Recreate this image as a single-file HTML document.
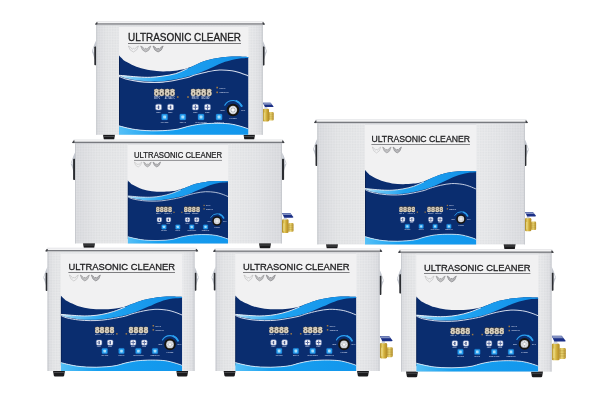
<!DOCTYPE html>
<html><head><meta charset="utf-8"><title>Ultrasonic Cleaner</title>
<style>html,body{margin:0;padding:0;background:#fff;}body{width:600px;height:400px;overflow:hidden;}svg{display:block;will-change:transform;opacity:0.999;}.t{font-family:"Liberation Sans",sans-serif;fill:#202022;stroke:#202022;}.led{font-family:"Liberation Mono",monospace;font-weight:bold;fill:#ddd4c2;stroke:#ddd4c2;}.s{font-family:"Liberation Sans",sans-serif;font-weight:bold;}</style></head><body>
<svg width="600" height="400" viewBox="0 0 600 400">
<defs>
<linearGradient id="brass" x1="0" x2="1" y1="0" y2="0"><stop offset="0" stop-color="#a98422"/><stop offset="0.35" stop-color="#e6cd62"/><stop offset="0.7" stop-color="#c9a433"/><stop offset="1" stop-color="#b08a27"/></linearGradient>
<linearGradient id="brass2" x1="0" x2="1" y1="0" y2="0"><stop offset="0" stop-color="#b89330"/><stop offset="0.4" stop-color="#ecd876"/><stop offset="1" stop-color="#b48e2a"/></linearGradient>
<pattern id="tex" width="1.6" height="1.6" patternUnits="userSpaceOnUse"><rect width="1.6" height="1.6" fill="none"/><rect x="0" y="0" width="0.8" height="0.8" fill="#8e9299" opacity="0.08"/><rect x="0.8" y="0.8" width="0.8" height="0.8" fill="#ffffff" opacity="0.14"/></pattern>
<radialGradient id="knob"><stop offset="0" stop-color="#ffffff"/><stop offset="0.7" stop-color="#e4e6ea"/><stop offset="1" stop-color="#b9bcc3"/></radialGradient>
<linearGradient id="steel1" x1="0" x2="1" y1="0" y2="0"><stop offset="0" stop-color="#d9dade"/><stop offset="0.06" stop-color="#e3e4e6"/><stop offset="0.14" stop-color="#e6e7e9"/><stop offset="0.91" stop-color="#e8e9eb"/><stop offset="0.96" stop-color="#e2e3e6"/><stop offset="1" stop-color="#d9dade"/></linearGradient>
<linearGradient id="sw1" x1="0" x2="1" y1="0" y2="0"><stop offset="0" stop-color="#c9ecfc"/><stop offset="0.12" stop-color="#6cc6f6"/><stop offset="0.35" stop-color="#1fa3f1"/><stop offset="1" stop-color="#1290e8"/></linearGradient>
<linearGradient id="bb1" x1="0" x2="1" y1="0" y2="0"><stop offset="0" stop-color="#55c0f7"/><stop offset="0.3" stop-color="#17a0f0"/><stop offset="1" stop-color="#1296ec"/></linearGradient>
<linearGradient id="steel2" x1="0" x2="1" y1="0" y2="0"><stop offset="0" stop-color="#d9dade"/><stop offset="0.11" stop-color="#e3e4e6"/><stop offset="0.25" stop-color="#e6e7e9"/><stop offset="0.74" stop-color="#e8e9eb"/><stop offset="0.88" stop-color="#e2e3e6"/><stop offset="1" stop-color="#d9dade"/></linearGradient>
<linearGradient id="sw2" x1="0" x2="1" y1="0" y2="0"><stop offset="0" stop-color="#c9ecfc"/><stop offset="0.12" stop-color="#6cc6f6"/><stop offset="0.35" stop-color="#1fa3f1"/><stop offset="1" stop-color="#1290e8"/></linearGradient>
<linearGradient id="bb2" x1="0" x2="1" y1="0" y2="0"><stop offset="0" stop-color="#55c0f7"/><stop offset="0.3" stop-color="#17a0f0"/><stop offset="1" stop-color="#1296ec"/></linearGradient>
<linearGradient id="steel3" x1="0" x2="1" y1="0" y2="0"><stop offset="0" stop-color="#d9dade"/><stop offset="0.1" stop-color="#e3e4e6"/><stop offset="0.23" stop-color="#e6e7e9"/><stop offset="0.77" stop-color="#e8e9eb"/><stop offset="0.89" stop-color="#e2e3e6"/><stop offset="1" stop-color="#d9dade"/></linearGradient>
<linearGradient id="sw3" x1="0" x2="1" y1="0" y2="0"><stop offset="0" stop-color="#c9ecfc"/><stop offset="0.12" stop-color="#6cc6f6"/><stop offset="0.35" stop-color="#1fa3f1"/><stop offset="1" stop-color="#1290e8"/></linearGradient>
<linearGradient id="bb3" x1="0" x2="1" y1="0" y2="0"><stop offset="0" stop-color="#55c0f7"/><stop offset="0.3" stop-color="#17a0f0"/><stop offset="1" stop-color="#1296ec"/></linearGradient>
<linearGradient id="steel4" x1="0" x2="1" y1="0" y2="0"><stop offset="0" stop-color="#d9dade"/><stop offset="0.04" stop-color="#e3e4e6"/><stop offset="0.09" stop-color="#e6e7e9"/><stop offset="0.92" stop-color="#e8e9eb"/><stop offset="0.96" stop-color="#e2e3e6"/><stop offset="1" stop-color="#d9dade"/></linearGradient>
<linearGradient id="sw4" x1="0" x2="1" y1="0" y2="0"><stop offset="0" stop-color="#c9ecfc"/><stop offset="0.12" stop-color="#6cc6f6"/><stop offset="0.35" stop-color="#1fa3f1"/><stop offset="1" stop-color="#1290e8"/></linearGradient>
<linearGradient id="bb4" x1="0" x2="1" y1="0" y2="0"><stop offset="0" stop-color="#55c0f7"/><stop offset="0.3" stop-color="#17a0f0"/><stop offset="1" stop-color="#1296ec"/></linearGradient>
<linearGradient id="steel5" x1="0" x2="1" y1="0" y2="0"><stop offset="0" stop-color="#d9dade"/><stop offset="0.05" stop-color="#e3e4e6"/><stop offset="0.12" stop-color="#e6e7e9"/><stop offset="0.86" stop-color="#e8e9eb"/><stop offset="0.94" stop-color="#e2e3e6"/><stop offset="1" stop-color="#d9dade"/></linearGradient>
<linearGradient id="sw5" x1="0" x2="1" y1="0" y2="0"><stop offset="0" stop-color="#c9ecfc"/><stop offset="0.12" stop-color="#6cc6f6"/><stop offset="0.35" stop-color="#1fa3f1"/><stop offset="1" stop-color="#1290e8"/></linearGradient>
<linearGradient id="bb5" x1="0" x2="1" y1="0" y2="0"><stop offset="0" stop-color="#55c0f7"/><stop offset="0.3" stop-color="#17a0f0"/><stop offset="1" stop-color="#1296ec"/></linearGradient>
<linearGradient id="steel6" x1="0" x2="1" y1="0" y2="0"><stop offset="0" stop-color="#d9dade"/><stop offset="0.05" stop-color="#e3e4e6"/><stop offset="0.1" stop-color="#e6e7e9"/><stop offset="0.91" stop-color="#e8e9eb"/><stop offset="0.96" stop-color="#e2e3e6"/><stop offset="1" stop-color="#d9dade"/></linearGradient>
<linearGradient id="sw6" x1="0" x2="1" y1="0" y2="0"><stop offset="0" stop-color="#c9ecfc"/><stop offset="0.12" stop-color="#6cc6f6"/><stop offset="0.35" stop-color="#1fa3f1"/><stop offset="1" stop-color="#1290e8"/></linearGradient>
<linearGradient id="bb6" x1="0" x2="1" y1="0" y2="0"><stop offset="0" stop-color="#55c0f7"/><stop offset="0.3" stop-color="#17a0f0"/><stop offset="1" stop-color="#1296ec"/></linearGradient>
</defs>
<rect width="600" height="400" fill="#ffffff"/>
<g id="c1">
<path d="M103 134.3H115L114.2 139.4Q114 140.4 113 140.4H105Q104 140.4 103.8 139.4Z" fill="#1b1b1d"/>
<rect x="103.6" y="136" width="10.8" height="0.8" fill="#55575a"/>
<path d="M243.5 134.3H255L254.2 139.4Q254 140.4 253 140.4H245.5Q244.5 140.4 244.3 139.4Z" fill="#1b1b1d"/>
<rect x="244.1" y="136" width="10.3" height="0.8" fill="#55575a"/>
<path d="M96.2 40.2L94.6 43.7L92 50.7Q91.8 52.2 92.8 53.7L94.6 59.2H96.2Z" fill="#c3c7cf"/>
<path d="M94.3 46.2L92.6 51L93.6 52.7Z" fill="#f3f4f7"/>
<rect x="94.3" y="46.5" width="2.2" height="18.7" rx="0.8" fill="#2b2d31"/>
<path d="M262.6 40.2L264.2 43.7L266.8 50.7Q267 52.2 266 53.7L264.2 59.2H262.6Z" fill="#c3c7cf"/>
<path d="M264.5 46.2L266.2 51L265.2 52.7Z" fill="#f3f4f7"/>
<rect x="262.3" y="46.5" width="2.2" height="19.1" rx="0.8" fill="#2b2d31"/>
<rect x="262.8" y="108.71" width="6.2" height="12.88" rx="1.22" fill="url(#brass)"/>
<rect x="268.67" y="112.08" width="5.06" height="8.4" rx="1.06" fill="url(#brass2)"/>
<rect x="264.43" y="106.78" width="2.85" height="2.12" fill="#cfd3dc"/>
<path d="M262.8 102.7H270.55L273.56 106.45Q273.56 107.1 272.58 107.1H264.92Z" fill="#1b2f86"/>
<path d="M263.04 102.86H270.46L271.93 104.66H264.1Z" fill="#8d9bc8" opacity="0.9"/>
<rect x="263.78" y="112.48" width="1.3" height="7.34" fill="#f1e39a" opacity="0.55"/>
<path d="M268.83 114.28H273.56M268.83 116.24H273.56M268.83 118.19H273.56" stroke="#9a7a1e" stroke-width="0.41" opacity="0.6"/>
<rect x="96.2" y="24.7" width="166.6" height="110.1" fill="url(#steel1)"/>
<rect x="96.2" y="25.2" width="166.6" height="109.6" fill="url(#tex)"/>
<rect x="96.2" y="25.2" width="1" height="109.6" fill="#c3c6cb" opacity="0.8"/>
<rect x="261.8" y="25.2" width="1" height="109.6" fill="#c3c6cb" opacity="0.8"/>
<path d="M95 24.6L96.8 21H263.2L265 24.6V24.9H95Z" fill="#f3f3f4"/>
<rect x="96.6" y="21" width="166.8" height="0.8" fill="#e6e7e9"/>
<rect x="95.6" y="23.3" width="168.8" height="1.4" fill="#787a7f"/>
<path d="M95 24.5L96.5 22.2L97.6 22.2L97.2 24.7Z" fill="#3f4145"/>
<path d="M265 24.5L263.5 22.2L262.4 22.2L262.8 24.7Z" fill="#3f4145"/>
<rect x="96.2" y="24.7" width="166.6" height="0.8" fill="#c4c6ca" opacity="0.7"/>
<rect x="119" y="26" width="129.5" height="108.8" fill="#f1f1f2"/>
<rect x="119" y="26" width="129.5" height="1" fill="#e2e3e6"/>
<text x="128" y="41.25" font-size="10.7" textLength="113" lengthAdjust="spacingAndGlyphs" class="t" stroke-width="0.3">ULTRASONIC CLEANER</text>
<rect x="128" y="43.15" width="113" height="0.74" fill="#4e4e52"/>
<path d="M128.37 46Q130.9 46.9 132.21 49.3L133.43 48.1L134.64 49.3Q135.95 46.9 138.48 46Q137.47 50.8 133.43 52Q129.38 50.8 128.37 46Z" fill="none" fill-opacity="0.45" stroke="#a9a9ab" stroke-width="0.48"/>
<path d="M140.7 46Q143.23 46.9 144.55 49.3L145.76 48.1L146.97 49.3Q148.29 46.9 150.82 46Q149.81 50.8 145.76 52Q141.71 50.8 140.7 46Z" fill="#8b8b8e" fill-opacity="0.45" stroke="#8b8b8e" stroke-width="0.59"/>
<path d="M153.04 46Q155.56 46.9 156.88 49.3L158.09 48.1L159.31 49.3Q160.62 46.9 163.15 46Q162.14 50.8 158.09 52Q154.05 50.8 153.04 46Z" fill="#7a7a7e" fill-opacity="0.45" stroke="#7a7a7e" stroke-width="0.64"/>
<clipPath id="cp1"><rect x="119" y="26" width="129.5" height="108.8"/></clipPath>
<g clip-path="url(#cp1)">
<path d="M119 55.58C119.54 56.12 121.13 57.81 122.24 58.79C123.35 59.77 123.04 60.04 125.67 61.46C128.3 62.87 133.9 65.8 138.04 67.28C142.17 68.75 146.32 69.61 150.47 70.3C154.61 70.98 158.76 71.32 162.9 71.39C167.04 71.45 172.09 71.01 175.33 70.71C178.57 70.41 180.28 70.04 182.33 69.59C184.38 69.14 185.56 68.74 187.63 67.99C189.71 67.25 191.52 66.4 194.76 65.13C198 63.85 202.94 61.57 207.06 60.35C211.18 59.12 215.35 58.42 219.49 57.78C223.64 57.15 227.09 56.68 231.92 56.54C236.76 56.4 245.74 56.86 248.5 56.93L248.5 129.01C247.96 128.8 246.86 128.27 245.26 127.74C243.67 127.21 241.03 126.41 238.92 125.84C236.8 125.27 234.86 124.72 232.57 124.33C230.28 123.95 228.21 123.71 225.19 123.54C222.17 123.37 218 123.26 214.44 123.3C210.88 123.34 206.78 123.55 203.82 123.78C200.87 124 199.4 124.2 196.7 124.65C194 125.1 190.72 125.73 187.63 126.47C184.55 127.21 181.53 128.44 178.18 129.09C174.84 129.74 171.1 130.07 167.56 130.36C164.02 130.65 160.5 130.8 156.94 130.84C153.38 130.87 149.76 130.81 146.19 130.6C142.63 130.39 139.12 130.09 135.58 129.57C132.04 129.04 127.72 128.05 124.96 127.43C122.19 126.8 119.99 126.1 119 125.84Z" fill="#0a2d6f"/>
<rect x="119" y="57.5" width="0.9" height="71.37" fill="#061d4c" opacity="0.85"/>
<path d="M119 125.84C119.99 126.1 122.19 126.8 124.96 127.43C127.72 128.05 132.04 129.04 135.58 129.57C139.12 130.09 142.63 130.39 146.19 130.6C149.76 130.81 153.38 130.87 156.94 130.84C160.5 130.8 164.02 130.65 167.56 130.36C171.1 130.07 174.84 129.74 178.18 129.09C181.53 128.44 184.55 127.21 187.63 126.47C190.72 125.73 194 125.1 196.7 124.65C199.4 124.2 200.87 124 203.82 123.78C206.78 123.55 210.88 123.34 214.44 123.3C218 123.26 222.17 123.37 225.19 123.54C228.21 123.71 230.28 123.95 232.57 124.33C234.86 124.72 236.8 125.27 238.92 125.84C241.03 126.41 243.67 127.21 245.26 127.74C246.86 128.27 247.96 128.8 248.5 129.01L248.5 137.18L119 137.18Z" fill="url(#bb1)"/>
<path d="M119 125.84C119.99 126.1 122.19 126.8 124.96 127.43C127.72 128.05 132.04 129.04 135.58 129.57C139.12 130.09 142.63 130.39 146.19 130.6C149.76 130.81 153.38 130.87 156.94 130.84C160.5 130.8 164.02 130.65 167.56 130.36C171.1 130.07 174.84 129.74 178.18 129.09C181.53 128.44 184.55 127.21 187.63 126.47C190.72 125.73 194 125.1 196.7 124.65C199.4 124.2 200.87 124 203.82 123.78C206.78 123.55 210.88 123.34 214.44 123.3C218 123.26 222.17 123.37 225.19 123.54C228.21 123.71 230.28 123.95 232.57 124.33C234.86 124.72 236.8 125.27 238.92 125.84C241.03 126.41 243.67 127.21 245.26 127.74C246.86 128.27 247.96 128.8 248.5 129.01" fill="none" stroke="#e8f2fb" stroke-width="0.85"/>
<path d="M119 75.29C122.17 75.56 132.79 76.6 138.04 76.93C143.28 77.27 146.32 77.43 150.47 77.29C154.61 77.15 158.76 76.69 162.9 76.09C167.04 75.5 171.21 74.98 175.33 73.72C179.45 72.47 184.4 69.98 187.63 68.55C190.87 67.12 191.52 66.49 194.76 65.13C198 63.76 202.94 61.57 207.06 60.35C211.18 59.12 215.35 58.42 219.49 57.78C223.64 57.15 227.09 56.68 231.92 56.54C236.76 56.4 245.74 56.86 248.5 56.93L248.5 57.96C246.77 58.08 242.05 58.02 238.14 58.68C234.23 59.33 229.31 60.46 225.06 61.87C220.81 63.28 216.77 65.35 212.63 67.14C208.48 68.93 204.36 71.04 200.2 72.6C196.03 74.17 191.78 75.42 187.63 76.54C183.49 77.66 179.45 78.55 175.33 79.32C171.21 80.09 167.04 80.8 162.9 81.17C158.76 81.53 154.61 81.59 150.47 81.49C146.32 81.4 142.17 81.1 138.04 80.58C133.9 80.05 128.84 79.13 125.67 78.34C122.5 77.55 120.11 76.26 119 75.84Z" fill="url(#sw1)"/>
<path d="M119 75.29C122.17 75.56 132.79 76.6 138.04 76.93C143.28 77.27 146.32 77.43 150.47 77.29C154.61 77.15 158.76 76.69 162.9 76.09C167.04 75.5 171.21 74.98 175.33 73.72C179.45 72.47 185.58 69.41 187.63 68.55" fill="none" stroke="#f2f4f8" stroke-width="0.96"/>
<path d="M119 76.32C120.11 76.77 122.5 78.22 125.67 79.06C128.84 79.9 133.9 80.82 138.04 81.37C142.17 81.92 146.32 82.24 150.47 82.37C154.61 82.49 158.76 82.47 162.9 82.12C167.04 81.77 171.19 81.03 175.33 80.27C179.48 79.51 184.53 78.43 187.76 77.56C191 76.7 191.54 76.04 194.76 75.1C197.97 74.16 202.94 72.78 207.06 71.92C211.18 71.07 215.35 70.19 219.49 69.99C223.64 69.8 228.38 70.24 231.92 70.74C235.46 71.23 237.97 72.08 240.73 72.95C243.49 73.82 247.2 75.46 248.5 75.96" fill="none" stroke="#d3dbec" stroke-width="1.06"/>
</g>
<rect x="154.04" y="88.87" width="20.74" height="6.7" fill="#3a3a3e"/>
<text x="153.72" y="96.27" font-size="10.15" textLength="21.38" lengthAdjust="spacingAndGlyphs" class="led" stroke-width="0.49">8888</text>
<rect x="190.76" y="88.87" width="20.74" height="6.7" fill="#3a3a3e"/>
<text x="190.44" y="96.27" font-size="10.15" textLength="21.38" lengthAdjust="spacingAndGlyphs" class="led" stroke-width="0.49">8888</text>
<text x="154.04" y="99.01" font-size="2.7" textLength="6.26" lengthAdjust="spacingAndGlyphs" fill="#c0cae4" text-anchor="start" class="s">SET°C</text>
<text x="164.74" y="99.01" font-size="2.7" textLength="10.04" lengthAdjust="spacingAndGlyphs" fill="#c0cae4" text-anchor="start" class="s">ACTUAL°C</text>
<text x="191.84" y="99.01" font-size="2.7" textLength="6.91" lengthAdjust="spacingAndGlyphs" fill="#c0cae4" text-anchor="start" class="s">MINUTE</text>
<text x="201.24" y="99.01" font-size="2.7" textLength="8.21" lengthAdjust="spacingAndGlyphs" fill="#c0cae4" text-anchor="start" class="s">SECOND</text>
<rect x="176.94" y="96.21" width="1.62" height="1.62" fill="#a07a44"/>
<rect x="187.2" y="96.21" width="1.62" height="1.62" fill="#a07a44"/>
<rect x="216.36" y="86.77" width="1.62" height="1.62" fill="#a07a44"/>
<rect x="216.36" y="91.55" width="1.62" height="1.62" fill="#a07a44"/>
<text x="219.49" y="88.63" font-size="2.48" textLength="5.94" lengthAdjust="spacingAndGlyphs" fill="#c0cae4" text-anchor="start" class="s">DEGAS</text>
<text x="219.49" y="93.42" font-size="2.48" textLength="9.18" lengthAdjust="spacingAndGlyphs" fill="#c0cae4" text-anchor="start" class="s">SEMIWAVE</text>
<rect x="155.56" y="104.15" width="6.05" height="5.94" rx="1.51" fill="#f6f7fb" stroke="#5f75ae" stroke-width="0.54"/>
<rect x="157.82" y="105.55" width="1.51" height="3.35" rx="0.54" fill="#4a5d92"/>
<rect x="156.64" y="106.71" width="0.86" height="1.3" fill="#7e8db8"/>
<text x="156.1" y="112.89" font-size="2.38" textLength="4.97" lengthAdjust="spacingAndGlyphs" fill="#c0cae4" text-anchor="start" class="s">TEMP+</text>
<rect x="167.54" y="104.15" width="6.05" height="5.94" rx="1.51" fill="#f6f7fb" stroke="#5f75ae" stroke-width="0.54"/>
<rect x="169.81" y="105.55" width="1.51" height="3.35" rx="0.54" fill="#4a5d92"/>
<rect x="168.62" y="106.71" width="0.86" height="1.3" fill="#7e8db8"/>
<text x="168.08" y="112.89" font-size="2.38" textLength="4.97" lengthAdjust="spacingAndGlyphs" fill="#c0cae4" text-anchor="start" class="s">TEMP-</text>
<rect x="192.38" y="104.15" width="6.05" height="5.94" rx="1.51" fill="#f6f7fb" stroke="#5f75ae" stroke-width="0.54"/>
<path d="M193.36 107.3H197.46M195.41 104.96V109.75" stroke="#5c6ea3" stroke-width="1.08"/>
<text x="192.92" y="112.89" font-size="2.38" textLength="4.97" lengthAdjust="spacingAndGlyphs" fill="#c0cae4" text-anchor="start" class="s">TIME+</text>
<rect x="204.48" y="104.15" width="6.05" height="5.94" rx="1.51" fill="#f6f7fb" stroke="#5f75ae" stroke-width="0.54"/>
<path d="M205.45 107.3H209.56M207.5 104.96V109.75" stroke="#5c6ea3" stroke-width="1.08"/>
<text x="205.02" y="112.89" font-size="2.38" textLength="4.97" lengthAdjust="spacingAndGlyphs" fill="#c0cae4" text-anchor="start" class="s">TIME-</text>
<rect x="161.6" y="114.06" width="6.05" height="5.83" rx="0.97" fill="#249ff0" stroke="#1a6cc2" stroke-width="0.43"/>
<rect x="163.22" y="115.58" width="2.81" height="3.02" rx="0.65" fill="#a9dcfa"/>
<text x="160.85" y="122.69" font-size="2.48" textLength="7.56" lengthAdjust="spacingAndGlyphs" fill="#c0cae4" text-anchor="start" class="s">HEATER</text>
<rect x="179.75" y="114.06" width="6.05" height="5.83" rx="0.97" fill="#249ff0" stroke="#1a6cc2" stroke-width="0.43"/>
<rect x="181.37" y="115.58" width="2.81" height="3.02" rx="0.65" fill="#a9dcfa"/>
<text x="179.64" y="122.69" font-size="2.48" textLength="6.26" lengthAdjust="spacingAndGlyphs" fill="#c0cae4" text-anchor="start" class="s">DEGAS</text>
<rect x="198" y="114.06" width="6.05" height="5.83" rx="0.97" fill="#249ff0" stroke="#1a6cc2" stroke-width="0.43"/>
<rect x="199.62" y="115.58" width="2.81" height="3.02" rx="0.65" fill="#a9dcfa"/>
<text x="195.35" y="122.69" font-size="2.48" textLength="11.34" lengthAdjust="spacingAndGlyphs" fill="#c0cae4" text-anchor="start" class="s">ULTRASONIC</text>
<rect x="216.04" y="114.06" width="6.05" height="5.83" rx="0.97" fill="#249ff0" stroke="#1a6cc2" stroke-width="0.43"/>
<rect x="217.66" y="115.58" width="2.81" height="3.02" rx="0.65" fill="#a9dcfa"/>
<text x="214.2" y="122.69" font-size="2.48" textLength="9.72" lengthAdjust="spacingAndGlyphs" fill="#c0cae4" text-anchor="start" class="s">SEMIWAVE</text>
<path d="M224.79 105.25A9.5 9.5 0 0 1 241.64 106" fill="none" stroke="#2a9ff0" stroke-width="1.19" stroke-linecap="round"/>
<path d="M236.56 101.14A9.5 9.5 0 0 1 241.64 106" fill="none" stroke="#2a9ff0" stroke-width="2.05" stroke-linecap="round"/>
<circle cx="233" cy="110" r="6.26" fill="#17140f"/>
<circle cx="233" cy="110" r="4.21" fill="url(#knob)"/>
<path d="M230.19 110H235.81M233 107.19V112.81M230.95 107.95L235.05 112.05M230.95 112.05L235.05 107.95" stroke="#6d7076" stroke-width="0.59" opacity="0.8"/>
<circle cx="233" cy="110" r="1.3" fill="#fafafa"/>
<text x="220.58" y="110.86" font-size="2.48" textLength="4.1" lengthAdjust="spacingAndGlyphs" fill="#c0cae4" text-anchor="start" class="s">MIN</text>
<text x="241.21" y="110.86" font-size="2.48" textLength="4.1" lengthAdjust="spacingAndGlyphs" fill="#c0cae4" text-anchor="start" class="s">MAX</text>
<text x="229.33" y="119.29" font-size="2.48" textLength="7.34" lengthAdjust="spacingAndGlyphs" fill="#c0cae4" text-anchor="start" class="s">POWER</text>
</g>
<g id="c2">
<path d="M83 242.9H95L94.2 248Q94 249 93 249H85Q84 249 83.8 248Z" fill="#1b1b1d"/>
<rect x="83.6" y="244.6" width="10.8" height="0.8" fill="#55575a"/>
<path d="M259 242.9H271L270.2 248Q270 249 269 249H261Q260 249 259.8 248Z" fill="#1b1b1d"/>
<rect x="259.6" y="244.6" width="10.8" height="0.8" fill="#55575a"/>
<path d="M75 152.5L73.4 156L70.8 163Q70.6 164.5 71.6 166L73.4 171.5H75Z" fill="#c3c7cf"/>
<path d="M73.1 158.5L71.4 163.3L72.4 165Z" fill="#f3f4f7"/>
<rect x="73.1" y="158.8" width="2.2" height="21.2" rx="0.8" fill="#2b2d31"/>
<path d="M282.2 152.5L283.8 156L286.4 163Q286.6 164.5 285.6 166L283.8 171.5H282.2Z" fill="#c3c7cf"/>
<path d="M284.1 158.5L285.8 163.3L284.8 165Z" fill="#f3f4f7"/>
<rect x="281.9" y="158.8" width="2.2" height="21.2" rx="0.8" fill="#2b2d31"/>
<rect x="282" y="219.33" width="6.55" height="13.61" rx="1.29" fill="url(#brass)"/>
<rect x="288.2" y="222.91" width="5.34" height="8.87" rx="1.12" fill="url(#brass2)"/>
<rect x="283.72" y="217.31" width="3.02" height="2.24" fill="#cfd3dc"/>
<path d="M282 213H290.18L293.37 216.96Q293.37 217.65 292.34 217.65H284.24Z" fill="#1b2f86"/>
<path d="M282.26 213.17H290.1L291.65 215.07H283.38Z" fill="#8d9bc8" opacity="0.9"/>
<rect x="283.03" y="223.34" width="1.38" height="7.75" fill="#f1e39a" opacity="0.55"/>
<path d="M288.38 225.23H293.37M288.38 227.3H293.37M288.38 229.37H293.37" stroke="#9a7a1e" stroke-width="0.43" opacity="0.6"/>
<rect x="75" y="143.1" width="207" height="100.3" fill="url(#steel2)"/>
<rect x="75" y="143.6" width="207" height="99.8" fill="url(#tex)"/>
<rect x="75" y="143.6" width="1" height="99.8" fill="#c3c6cb" opacity="0.8"/>
<rect x="281" y="143.6" width="1" height="99.8" fill="#c3c6cb" opacity="0.8"/>
<path d="M72 143L73.8 139.5H282.8L284.6 143V143.3H72Z" fill="#f3f3f4"/>
<rect x="73.6" y="139.5" width="209.4" height="0.8" fill="#e6e7e9"/>
<rect x="72.6" y="141.7" width="211.4" height="1.4" fill="#787a7f"/>
<path d="M72 142.9L73.5 140.6L74.6 140.6L74.2 143.1Z" fill="#3f4145"/>
<path d="M284.6 142.9L283.1 140.6L282 140.6L282.4 143.1Z" fill="#3f4145"/>
<rect x="75" y="143.1" width="207" height="0.8" fill="#c4c6ca" opacity="0.7"/>
<rect x="127.6" y="144" width="100.4" height="99.4" fill="#f1f1f2"/>
<rect x="127.6" y="144" width="100.4" height="1" fill="#e2e3e6"/>
<text x="134" y="158.15" font-size="8.2" textLength="88" lengthAdjust="spacingAndGlyphs" class="t" stroke-width="0.23">ULTRASONIC CLEANER</text>
<rect x="134" y="159.95" width="88" height="0.58" fill="#4e4e52"/>
<path d="M134.28 162Q136.19 162.75 137.19 164.75L138.11 163.75L139.03 164.75Q140.02 162.75 141.93 162Q141.17 166 138.11 167Q135.05 166 134.28 162Z" fill="none" fill-opacity="0.45" stroke="#a9a9ab" stroke-width="0.37"/>
<path d="M143.61 162Q145.53 162.75 146.52 164.75L147.44 163.75L148.36 164.75Q149.35 162.75 151.27 162Q150.5 166 147.44 167Q144.38 166 143.61 162Z" fill="#8b8b8e" fill-opacity="0.45" stroke="#8b8b8e" stroke-width="0.45"/>
<path d="M152.95 162Q154.86 162.75 155.85 164.75L156.77 163.75L157.69 164.75Q158.69 162.75 160.6 162Q159.83 166 156.77 167Q153.71 166 152.95 162Z" fill="#7a7a7e" fill-opacity="0.45" stroke="#7a7a7e" stroke-width="0.49"/>
<clipPath id="cp2"><rect x="127.6" y="144" width="100.4" height="99.4"/></clipPath>
<g clip-path="url(#cp2)">
<path d="M127.6 180.2C128.02 180.62 129.25 181.96 130.11 182.73C130.97 183.5 130.73 183.74 132.77 184.81C134.81 185.89 139.15 188.12 142.36 189.17C145.56 190.23 148.78 190.72 152 191.13C155.21 191.54 158.42 191.64 161.64 191.64C164.85 191.64 168.76 191.33 171.27 191.13C173.78 190.93 175.11 190.73 176.7 190.44C178.29 190.14 179.21 189.88 180.81 189.36C182.42 188.85 183.82 188.26 186.33 187.34C188.84 186.43 192.68 184.76 195.87 183.87C199.07 182.97 202.3 182.44 205.51 181.97C208.72 181.5 211.4 181.13 215.15 181.02C218.9 180.92 225.86 181.28 228 181.34L228 239.1C227.58 238.93 226.73 238.51 225.49 238.09C224.25 237.67 222.21 237.03 220.57 236.57C218.93 236.12 217.42 235.68 215.65 235.37C213.88 235.07 212.27 234.88 209.93 234.74C207.59 234.6 204.36 234.52 201.59 234.55C198.83 234.58 195.65 234.75 193.36 234.93C191.07 235.11 189.93 235.27 187.84 235.63C185.75 235.98 183.2 236.49 180.81 237.08C178.42 237.67 176.08 238.65 173.48 239.17C170.89 239.68 167.99 239.95 165.25 240.18C162.51 240.41 159.78 240.52 157.02 240.56C154.26 240.59 151.44 240.53 148.68 240.37C145.92 240.2 143.2 239.97 140.45 239.54C137.71 239.12 134.36 238.33 132.22 237.84C130.08 237.34 128.37 236.79 127.6 236.57Z" fill="#0a2d6f"/>
<rect x="127.6" y="182.2" width="0.9" height="56.88" fill="#061d4c" opacity="0.85"/>
<path d="M127.6 236.57C128.37 236.79 130.08 237.34 132.22 237.84C134.36 238.33 137.71 239.12 140.45 239.54C143.2 239.97 145.92 240.2 148.68 240.37C151.44 240.53 154.26 240.59 157.02 240.56C159.78 240.52 162.51 240.41 165.25 240.18C167.99 239.95 170.89 239.68 173.48 239.17C176.08 238.65 178.42 237.67 180.81 237.08C183.2 236.49 185.75 235.98 187.84 235.63C189.93 235.27 191.07 235.11 193.36 234.93C195.65 234.75 198.83 234.58 201.59 234.55C204.36 234.52 207.59 234.6 209.93 234.74C212.27 234.88 213.88 235.07 215.65 235.37C217.42 235.68 218.93 236.12 220.57 236.57C222.21 237.03 224.25 237.67 225.49 238.09C226.73 238.51 227.58 238.93 228 239.1L228 245.3L127.6 245.3Z" fill="url(#bb2)"/>
<path d="M127.6 236.57C128.37 236.79 130.08 237.34 132.22 237.84C134.36 238.33 137.71 239.12 140.45 239.54C143.2 239.97 145.92 240.2 148.68 240.37C151.44 240.53 154.26 240.59 157.02 240.56C159.78 240.52 162.51 240.41 165.25 240.18C167.99 239.95 170.89 239.68 173.48 239.17C176.08 238.65 178.42 237.67 180.81 237.08C183.2 236.49 185.75 235.98 187.84 235.63C189.93 235.27 191.07 235.11 193.36 234.93C195.65 234.75 198.83 234.58 201.59 234.55C204.36 234.52 207.59 234.6 209.93 234.74C212.27 234.88 213.88 235.07 215.65 235.37C217.42 235.68 218.93 236.12 220.57 236.57C222.21 237.03 224.25 237.67 225.49 238.09C226.73 238.51 227.58 238.93 228 239.1" fill="none" stroke="#e8f2fb" stroke-width="0.66"/>
<path d="M127.6 195.94C130.06 196.13 138.29 196.87 142.36 197.07C146.43 197.27 148.78 197.32 152 197.14C155.21 196.96 158.42 196.6 161.64 196C164.85 195.4 168.08 194.57 171.27 193.54C174.47 192.5 178.3 190.84 180.81 189.81C183.32 188.77 183.82 188.33 186.33 187.34C188.84 186.35 192.68 184.76 195.87 183.87C199.07 182.97 202.3 182.44 205.51 181.97C208.72 181.5 211.4 181.13 215.15 181.02C218.9 180.92 225.86 181.28 228 181.34L228 182.16C226.66 182.25 223 182.21 219.97 182.73C216.94 183.24 213.12 184.15 209.83 185.26C206.53 186.36 203.4 187.99 200.19 189.36C196.98 190.73 193.78 192.27 190.55 193.47C187.32 194.67 184.02 195.72 180.81 196.57C177.6 197.42 174.47 198.01 171.27 198.59C168.08 199.17 164.85 199.73 161.64 200.04C158.42 200.36 155.21 200.5 152 200.49C148.78 200.48 145.56 200.34 142.36 199.98C139.15 199.62 135.23 198.94 132.77 198.34C130.31 197.74 128.46 196.71 127.6 196.38Z" fill="url(#sw2)"/>
<path d="M127.6 195.94C130.06 196.13 138.29 196.87 142.36 197.07C146.43 197.27 148.78 197.32 152 197.14C155.21 196.96 158.42 196.6 161.64 196C164.85 195.4 168.08 194.57 171.27 193.54C174.47 192.5 179.22 190.43 180.81 189.81" fill="none" stroke="#f2f4f8" stroke-width="0.74"/>
<path d="M127.6 196.76C128.46 197.12 130.31 198.26 132.77 198.91C135.23 199.55 139.15 200.23 142.36 200.61C145.56 200.99 148.78 201.15 152 201.18C155.21 201.21 158.42 201.11 161.64 200.8C164.85 200.5 168.06 199.92 171.27 199.35C174.49 198.78 178.4 198.02 180.91 197.39C183.42 196.76 183.84 196.27 186.33 195.56C188.83 194.84 192.68 193.74 195.87 193.09C199.07 192.45 202.3 191.83 205.51 191.7C208.72 191.58 212.4 191.93 215.15 192.33C217.89 192.73 219.83 193.41 221.98 194.1C224.12 194.8 227 196.11 228 196.51" fill="none" stroke="#d3dbec" stroke-width="0.82"/>
</g>
<rect x="155.9" y="206.34" width="15.84" height="5.11" fill="#3a3a3e"/>
<text x="155.65" y="211.74" font-size="7.75" textLength="16.33" lengthAdjust="spacingAndGlyphs" class="led" stroke-width="0.37">8888</text>
<rect x="183.95" y="206.34" width="15.84" height="5.11" fill="#3a3a3e"/>
<text x="183.7" y="211.74" font-size="7.75" textLength="16.33" lengthAdjust="spacingAndGlyphs" class="led" stroke-width="0.37">8888</text>
<text x="155.9" y="213.73" font-size="2.06" textLength="4.78" lengthAdjust="spacingAndGlyphs" fill="#c0cae4" text-anchor="start" class="s">SET°C</text>
<text x="164.06" y="213.73" font-size="2.06" textLength="7.67" lengthAdjust="spacingAndGlyphs" fill="#c0cae4" text-anchor="start" class="s">ACTUAL°C</text>
<text x="184.77" y="213.73" font-size="2.06" textLength="5.28" lengthAdjust="spacingAndGlyphs" fill="#c0cae4" text-anchor="start" class="s">MINUTE</text>
<text x="191.95" y="213.73" font-size="2.06" textLength="6.27" lengthAdjust="spacingAndGlyphs" fill="#c0cae4" text-anchor="start" class="s">SECOND</text>
<rect x="173.39" y="211.69" width="1.24" height="1.24" fill="#a07a44"/>
<rect x="181.22" y="211.69" width="1.24" height="1.24" fill="#a07a44"/>
<rect x="203.5" y="204.81" width="1.24" height="1.24" fill="#a07a44"/>
<rect x="203.5" y="208.29" width="1.24" height="1.24" fill="#a07a44"/>
<text x="205.89" y="206.17" font-size="1.9" textLength="4.54" lengthAdjust="spacingAndGlyphs" fill="#c0cae4" text-anchor="start" class="s">DEGAS</text>
<text x="205.89" y="209.65" font-size="1.9" textLength="7.01" lengthAdjust="spacingAndGlyphs" fill="#c0cae4" text-anchor="start" class="s">SEMIWAVE</text>
<rect x="157.05" y="217.47" width="4.62" height="4.54" rx="1.15" fill="#f6f7fb" stroke="#5f75ae" stroke-width="0.41"/>
<rect x="158.78" y="218.49" width="1.15" height="2.56" rx="0.41" fill="#4a5d92"/>
<rect x="157.88" y="219.34" width="0.66" height="0.99" fill="#7e8db8"/>
<text x="157.46" y="223.84" font-size="1.81" textLength="3.79" lengthAdjust="spacingAndGlyphs" fill="#c0cae4" text-anchor="start" class="s">TEMP+</text>
<rect x="166.21" y="217.47" width="4.62" height="4.54" rx="1.15" fill="#f6f7fb" stroke="#5f75ae" stroke-width="0.41"/>
<rect x="167.94" y="218.49" width="1.15" height="2.56" rx="0.41" fill="#4a5d92"/>
<rect x="167.03" y="219.34" width="0.66" height="0.99" fill="#7e8db8"/>
<text x="166.62" y="223.84" font-size="1.81" textLength="3.79" lengthAdjust="spacingAndGlyphs" fill="#c0cae4" text-anchor="start" class="s">TEMP-</text>
<rect x="185.18" y="217.47" width="4.62" height="4.54" rx="1.15" fill="#f6f7fb" stroke="#5f75ae" stroke-width="0.41"/>
<path d="M185.93 219.77H189.06M187.49 218.07V221.55" stroke="#5c6ea3" stroke-width="0.82"/>
<text x="185.6" y="223.84" font-size="1.81" textLength="3.79" lengthAdjust="spacingAndGlyphs" fill="#c0cae4" text-anchor="start" class="s">TIME+</text>
<rect x="194.42" y="217.47" width="4.62" height="4.54" rx="1.15" fill="#f6f7fb" stroke="#5f75ae" stroke-width="0.41"/>
<path d="M195.17 219.77H198.3M196.73 218.07V221.55" stroke="#5c6ea3" stroke-width="0.82"/>
<text x="194.84" y="223.84" font-size="1.81" textLength="3.79" lengthAdjust="spacingAndGlyphs" fill="#c0cae4" text-anchor="start" class="s">TIME-</text>
<rect x="161.67" y="224.69" width="4.62" height="4.45" rx="0.74" fill="#249ff0" stroke="#1a6cc2" stroke-width="0.33"/>
<rect x="162.91" y="225.8" width="2.14" height="2.31" rx="0.49" fill="#a9dcfa"/>
<text x="161.09" y="230.98" font-size="1.9" textLength="5.77" lengthAdjust="spacingAndGlyphs" fill="#c0cae4" text-anchor="start" class="s">HEATER</text>
<rect x="175.53" y="224.69" width="4.62" height="4.45" rx="0.74" fill="#249ff0" stroke="#1a6cc2" stroke-width="0.33"/>
<rect x="176.77" y="225.8" width="2.14" height="2.31" rx="0.49" fill="#a9dcfa"/>
<text x="175.45" y="230.98" font-size="1.9" textLength="4.78" lengthAdjust="spacingAndGlyphs" fill="#c0cae4" text-anchor="start" class="s">DEGAS</text>
<rect x="189.47" y="224.69" width="4.62" height="4.45" rx="0.74" fill="#249ff0" stroke="#1a6cc2" stroke-width="0.33"/>
<rect x="190.71" y="225.8" width="2.14" height="2.31" rx="0.49" fill="#a9dcfa"/>
<text x="187.45" y="230.98" font-size="1.9" textLength="8.66" lengthAdjust="spacingAndGlyphs" fill="#c0cae4" text-anchor="start" class="s">ULTRASONIC</text>
<rect x="203.25" y="224.69" width="4.62" height="4.45" rx="0.74" fill="#249ff0" stroke="#1a6cc2" stroke-width="0.33"/>
<rect x="204.49" y="225.8" width="2.14" height="2.31" rx="0.49" fill="#a9dcfa"/>
<text x="201.85" y="230.98" font-size="1.9" textLength="7.42" lengthAdjust="spacingAndGlyphs" fill="#c0cae4" text-anchor="start" class="s">SEMIWAVE</text>
<path d="M210.73 217.37A7.26 7.26 0 0 1 223.6 217.95" fill="none" stroke="#2a9ff0" stroke-width="0.91" stroke-linecap="round"/>
<path d="M219.72 214.24A7.26 7.26 0 0 1 223.6 217.95" fill="none" stroke="#2a9ff0" stroke-width="1.57" stroke-linecap="round"/>
<circle cx="217" cy="221" r="4.78" fill="#17140f"/>
<circle cx="217" cy="221" r="3.22" fill="url(#knob)"/>
<path d="M214.86 221H219.14M217 218.86V223.14M215.43 219.43L218.57 222.57M215.43 222.57L218.57 219.43" stroke="#6d7076" stroke-width="0.45" opacity="0.8"/>
<circle cx="217" cy="221" r="0.99" fill="#fafafa"/>
<text x="207.51" y="221.66" font-size="1.9" textLength="3.13" lengthAdjust="spacingAndGlyphs" fill="#c0cae4" text-anchor="start" class="s">MIN</text>
<text x="223.27" y="221.66" font-size="1.9" textLength="3.13" lengthAdjust="spacingAndGlyphs" fill="#c0cae4" text-anchor="start" class="s">MAX</text>
<text x="214.2" y="228.09" font-size="1.9" textLength="5.61" lengthAdjust="spacingAndGlyphs" fill="#c0cae4" text-anchor="start" class="s">POWER</text>
</g>
<g id="c3">
<path d="M326 243.9H338L337.2 249Q337 250 336 250H328Q327 250 326.8 249Z" fill="#1b1b1d"/>
<rect x="326.6" y="245.6" width="10.8" height="0.8" fill="#55575a"/>
<path d="M503.6 243.9H515.6L514.8 249Q514.6 250 513.6 250H505.6Q504.6 250 504.4 249Z" fill="#1b1b1d"/>
<rect x="504.2" y="245.6" width="10.8" height="0.8" fill="#55575a"/>
<path d="M317.4 138.2L315.8 141.7L313.2 148.7Q313 150.2 314 151.7L315.8 157.2H317.4Z" fill="#c3c7cf"/>
<path d="M315.5 144.2L313.8 149L314.8 150.7Z" fill="#f3f4f7"/>
<rect x="315.5" y="144.5" width="2.2" height="21.5" rx="0.8" fill="#2b2d31"/>
<path d="M524.5 138.4L526.1 141.9L528.7 148.9Q528.9 150.4 527.9 151.9L526.1 157.4H524.5Z" fill="#c3c7cf"/>
<path d="M526.4 144.4L528.1 149.2L527.1 150.9Z" fill="#f3f4f7"/>
<rect x="524.2" y="144.7" width="2.2" height="21.3" rx="0.8" fill="#2b2d31"/>
<rect x="525" y="218.12" width="6.31" height="13.13" rx="1.25" fill="url(#brass)"/>
<rect x="530.98" y="221.55" width="5.15" height="8.56" rx="1.08" fill="url(#brass2)"/>
<rect x="526.66" y="216.15" width="2.91" height="2.16" fill="#cfd3dc"/>
<path d="M525 212H532.89L535.97 215.82Q535.97 216.49 534.97 216.49H527.16Z" fill="#1b2f86"/>
<path d="M525.25 212.17H532.81L534.3 213.99H526.33Z" fill="#8d9bc8" opacity="0.9"/>
<rect x="526" y="221.97" width="1.33" height="7.48" fill="#f1e39a" opacity="0.55"/>
<path d="M531.15 223.8H535.97M531.15 225.79H535.97M531.15 227.78H535.97" stroke="#9a7a1e" stroke-width="0.42" opacity="0.6"/>
<rect x="317.3" y="123.1" width="207.7" height="121.3" fill="url(#steel3)"/>
<rect x="317.3" y="123.6" width="207.7" height="120.8" fill="url(#tex)"/>
<rect x="317.3" y="123.6" width="1" height="120.8" fill="#c3c6cb" opacity="0.8"/>
<rect x="524" y="123.6" width="1" height="120.8" fill="#c3c6cb" opacity="0.8"/>
<path d="M314 123L315.8 119.3H526.2L528 123V123.3H314Z" fill="#f3f3f4"/>
<rect x="315.6" y="119.3" width="210.8" height="0.8" fill="#e6e7e9"/>
<rect x="314.6" y="121.7" width="212.8" height="1.4" fill="#787a7f"/>
<path d="M314 122.9L315.5 120.6L316.6 120.6L316.2 123.1Z" fill="#3f4145"/>
<path d="M528 122.9L526.5 120.6L525.4 120.6L525.8 123.1Z" fill="#3f4145"/>
<rect x="317.3" y="123.1" width="207.7" height="0.8" fill="#c4c6ca" opacity="0.7"/>
<rect x="365" y="124" width="111.4" height="120.4" fill="#f1f1f2"/>
<rect x="365" y="124" width="111.4" height="1" fill="#e2e3e6"/>
<text x="371.4" y="142.4" font-size="9.3" textLength="98.6" lengthAdjust="spacingAndGlyphs" class="t" stroke-width="0.26">ULTRASONIC CLEANER</text>
<rect x="371.4" y="144.25" width="98.6" height="0.64" fill="#4e4e52"/>
<path d="M372.31 147Q374.43 147.9 375.53 150.3L376.55 149.1L377.56 150.3Q378.67 147.9 380.78 147Q379.94 151.8 376.55 153Q373.16 151.8 372.31 147Z" fill="none" fill-opacity="0.45" stroke="#a9a9ab" stroke-width="0.41"/>
<path d="M382.64 147Q384.76 147.9 385.86 150.3L386.88 149.1L387.9 150.3Q389 147.9 391.12 147Q390.27 151.8 386.88 153Q383.49 151.8 382.64 147Z" fill="#8b8b8e" fill-opacity="0.45" stroke="#8b8b8e" stroke-width="0.5"/>
<path d="M392.98 147Q395.1 147.9 396.2 150.3L397.21 149.1L398.23 150.3Q399.33 147.9 401.45 147Q400.6 151.8 397.21 153Q393.82 151.8 392.98 147Z" fill="#7a7a7e" fill-opacity="0.45" stroke="#7a7a7e" stroke-width="0.55"/>
<clipPath id="cp3"><rect x="365" y="124" width="111.4" height="120.4"/></clipPath>
<g clip-path="url(#cp3)">
<path d="M365 170.04C365.46 170.54 366.83 172.12 367.79 173.03C368.74 173.94 368.47 174.22 370.74 175.51C373 176.81 377.82 179.5 381.38 180.81C384.93 182.12 388.51 182.81 392.07 183.38C395.63 183.94 399.2 184.15 402.76 184.19C406.33 184.22 410.67 183.83 413.46 183.57C416.24 183.31 417.71 183.02 419.47 182.63C421.24 182.25 422.26 181.91 424.04 181.26C425.82 180.6 427.38 179.86 430.17 178.72C432.95 177.58 437.21 175.53 440.75 174.43C444.3 173.33 447.88 172.69 451.45 172.11C455.01 171.54 457.98 171.1 462.14 170.97C466.3 170.84 474.02 171.28 476.4 171.34L476.4 239.56C475.94 239.37 474.99 238.87 473.62 238.37C472.24 237.88 469.98 237.12 468.16 236.59C466.34 236.05 464.67 235.53 462.7 235.17C460.73 234.81 458.95 234.59 456.35 234.43C453.75 234.27 450.17 234.17 447.1 234.21C444.04 234.24 440.51 234.44 437.97 234.65C435.42 234.86 434.16 235.05 431.84 235.47C429.52 235.89 426.7 236.49 424.04 237.18C421.39 237.88 418.79 239.03 415.91 239.64C413.03 240.25 409.82 240.56 406.77 240.83C403.73 241.1 400.7 241.24 397.64 241.28C394.58 241.31 391.46 241.25 388.39 241.05C385.33 240.85 382.3 240.58 379.26 240.08C376.21 239.59 372.5 238.66 370.12 238.08C367.75 237.49 365.85 236.84 365 236.59Z" fill="#0a2d6f"/>
<rect x="365" y="172" width="0.9" height="66.96" fill="#061d4c" opacity="0.85"/>
<path d="M365 236.59C365.85 236.84 367.75 237.49 370.12 238.08C372.5 238.66 376.21 239.59 379.26 240.08C382.3 240.58 385.33 240.85 388.39 241.05C391.46 241.25 394.58 241.31 397.64 241.28C400.7 241.24 403.73 241.1 406.77 240.83C409.82 240.56 413.03 240.25 415.91 239.64C418.79 239.03 421.39 237.88 424.04 237.18C426.7 236.49 429.52 235.89 431.84 235.47C434.16 235.05 435.42 234.86 437.97 234.65C440.51 234.44 444.04 234.24 447.1 234.21C450.17 234.17 453.75 234.27 456.35 234.43C458.95 234.59 460.73 234.81 462.7 235.17C464.67 235.53 466.34 236.05 468.16 236.59C469.98 237.12 472.24 237.88 473.62 238.37C474.99 238.87 475.94 239.37 476.4 239.56L476.4 246.63L365 246.63Z" fill="url(#bb3)"/>
<path d="M365 236.59C365.85 236.84 367.75 237.49 370.12 238.08C372.5 238.66 376.21 239.59 379.26 240.08C382.3 240.58 385.33 240.85 388.39 241.05C391.46 241.25 394.58 241.31 397.64 241.28C400.7 241.24 403.73 241.1 406.77 240.83C409.82 240.56 413.03 240.25 415.91 239.64C418.79 239.03 421.39 237.88 424.04 237.18C426.7 236.49 429.52 235.89 431.84 235.47C434.16 235.05 435.42 234.86 437.97 234.65C440.51 234.44 444.04 234.24 447.1 234.21C450.17 234.17 453.75 234.27 456.35 234.43C458.95 234.59 460.73 234.81 462.7 235.17C464.67 235.53 466.34 236.05 468.16 236.59C469.98 237.12 472.24 237.88 473.62 238.37C474.99 238.87 475.94 239.37 476.4 239.56" fill="none" stroke="#e8f2fb" stroke-width="0.73"/>
<path d="M365 188.54C367.73 188.78 376.86 189.71 381.38 189.99C385.89 190.26 388.51 190.36 392.07 190.19C395.63 190.02 399.2 189.59 402.76 188.96C406.33 188.33 409.91 187.59 413.46 186.4C417.01 185.2 421.26 183.06 424.04 181.78C426.83 180.5 427.38 179.94 430.17 178.72C432.95 177.5 437.21 175.53 440.75 174.43C444.3 173.33 447.88 172.69 451.45 172.11C455.01 171.54 457.98 171.1 462.14 170.97C466.3 170.84 474.02 171.28 476.4 171.34L476.4 172.31C474.91 172.42 470.85 172.37 467.49 172.98C464.13 173.59 459.89 174.65 456.24 175.97C452.58 177.28 449.11 179.21 445.54 180.85C441.98 182.5 438.43 184.39 434.85 185.83C431.26 187.28 427.61 188.48 424.04 189.5C420.48 190.53 417.01 191.3 413.46 192C409.91 192.7 406.33 193.37 402.76 193.72C399.2 194.08 395.63 194.19 392.07 194.13C388.51 194.08 384.93 193.87 381.38 193.41C377.82 192.95 373.47 192.12 370.74 191.39C368.01 190.67 365.96 189.45 365 189.07Z" fill="url(#sw3)"/>
<path d="M365 188.54C367.73 188.78 376.86 189.71 381.38 189.99C385.89 190.26 388.51 190.36 392.07 190.19C395.63 190.02 399.2 189.59 402.76 188.96C406.33 188.33 409.91 187.59 413.46 186.4C417.01 185.2 422.28 182.55 424.04 181.78" fill="none" stroke="#f2f4f8" stroke-width="0.82"/>
<path d="M365 189.51C365.96 189.94 368.01 191.29 370.74 192.06C373.47 192.84 377.82 193.67 381.38 194.15C384.93 194.63 388.51 194.88 392.07 194.95C395.63 195.03 399.2 194.96 402.76 194.61C406.33 194.27 409.89 193.58 413.46 192.89C417.02 192.2 421.37 191.25 424.15 190.47C426.94 189.69 427.4 189.1 430.17 188.24C432.94 187.37 437.21 186.07 440.75 185.29C444.3 184.52 447.88 183.74 451.45 183.57C455.01 183.4 459.1 183.82 462.14 184.29C465.19 184.76 467.34 185.55 469.72 186.37C472.09 187.19 475.29 188.72 476.4 189.2" fill="none" stroke="#d3dbec" stroke-width="0.92"/>
</g>
<rect x="399.26" y="206.33" width="15.82" height="5.11" fill="#3a3a3e"/>
<text x="399.02" y="211.56" font-size="7.75" textLength="16.32" lengthAdjust="spacingAndGlyphs" class="led" stroke-width="0.37">8888</text>
<rect x="427.28" y="206.33" width="15.82" height="5.11" fill="#3a3a3e"/>
<text x="427.03" y="211.56" font-size="7.75" textLength="16.32" lengthAdjust="spacingAndGlyphs" class="led" stroke-width="0.37">8888</text>
<text x="399.26" y="213.5" font-size="2.06" textLength="4.78" lengthAdjust="spacingAndGlyphs" fill="#c0cae4" text-anchor="start" class="s">SET°C</text>
<text x="407.42" y="213.5" font-size="2.06" textLength="7.66" lengthAdjust="spacingAndGlyphs" fill="#c0cae4" text-anchor="start" class="s">ACTUAL°C</text>
<text x="428.1" y="213.5" font-size="2.06" textLength="5.27" lengthAdjust="spacingAndGlyphs" fill="#c0cae4" text-anchor="start" class="s">MINUTE</text>
<text x="435.27" y="213.5" font-size="2.06" textLength="6.26" lengthAdjust="spacingAndGlyphs" fill="#c0cae4" text-anchor="start" class="s">SECOND</text>
<rect x="416.73" y="211.52" width="1.24" height="1.24" fill="#a07a44"/>
<rect x="424.56" y="211.52" width="1.24" height="1.24" fill="#a07a44"/>
<rect x="446.81" y="204.85" width="1.24" height="1.24" fill="#a07a44"/>
<rect x="446.81" y="208.22" width="1.24" height="1.24" fill="#a07a44"/>
<text x="449.2" y="206.16" font-size="1.9" textLength="4.53" lengthAdjust="spacingAndGlyphs" fill="#c0cae4" text-anchor="start" class="s">DEGAS</text>
<text x="449.2" y="209.54" font-size="1.9" textLength="7" lengthAdjust="spacingAndGlyphs" fill="#c0cae4" text-anchor="start" class="s">SEMIWAVE</text>
<rect x="400.42" y="217.12" width="4.61" height="4.53" rx="1.15" fill="#f6f7fb" stroke="#5f75ae" stroke-width="0.41"/>
<rect x="402.15" y="218.11" width="1.15" height="2.55" rx="0.41" fill="#4a5d92"/>
<rect x="401.24" y="218.94" width="0.66" height="0.99" fill="#7e8db8"/>
<text x="400.83" y="223.3" font-size="1.81" textLength="3.79" lengthAdjust="spacingAndGlyphs" fill="#c0cae4" text-anchor="start" class="s">TEMP+</text>
<rect x="409.56" y="217.12" width="4.61" height="4.53" rx="1.15" fill="#f6f7fb" stroke="#5f75ae" stroke-width="0.41"/>
<rect x="411.29" y="218.11" width="1.15" height="2.55" rx="0.41" fill="#4a5d92"/>
<rect x="410.39" y="218.94" width="0.66" height="0.99" fill="#7e8db8"/>
<text x="409.98" y="223.3" font-size="1.81" textLength="3.79" lengthAdjust="spacingAndGlyphs" fill="#c0cae4" text-anchor="start" class="s">TEMP-</text>
<rect x="428.52" y="217.12" width="4.61" height="4.53" rx="1.15" fill="#f6f7fb" stroke="#5f75ae" stroke-width="0.41"/>
<path d="M429.26 219.35H432.39M430.82 217.7V221.08" stroke="#5c6ea3" stroke-width="0.82"/>
<text x="428.93" y="223.3" font-size="1.81" textLength="3.79" lengthAdjust="spacingAndGlyphs" fill="#c0cae4" text-anchor="start" class="s">TIME+</text>
<rect x="437.74" y="217.12" width="4.61" height="4.53" rx="1.15" fill="#f6f7fb" stroke="#5f75ae" stroke-width="0.41"/>
<path d="M438.49 219.35H441.62M440.05 217.7V221.08" stroke="#5c6ea3" stroke-width="0.82"/>
<text x="438.16" y="223.3" font-size="1.81" textLength="3.79" lengthAdjust="spacingAndGlyphs" fill="#c0cae4" text-anchor="start" class="s">TIME-</text>
<rect x="405.03" y="224.13" width="4.61" height="4.45" rx="0.74" fill="#249ff0" stroke="#1a6cc2" stroke-width="0.33"/>
<rect x="406.27" y="225.2" width="2.14" height="2.31" rx="0.49" fill="#a9dcfa"/>
<text x="404.45" y="230.23" font-size="1.9" textLength="5.77" lengthAdjust="spacingAndGlyphs" fill="#c0cae4" text-anchor="start" class="s">HEATER</text>
<rect x="418.87" y="224.13" width="4.61" height="4.45" rx="0.74" fill="#249ff0" stroke="#1a6cc2" stroke-width="0.33"/>
<rect x="420.11" y="225.2" width="2.14" height="2.31" rx="0.49" fill="#a9dcfa"/>
<text x="418.79" y="230.23" font-size="1.9" textLength="4.78" lengthAdjust="spacingAndGlyphs" fill="#c0cae4" text-anchor="start" class="s">DEGAS</text>
<rect x="432.8" y="224.13" width="4.61" height="4.45" rx="0.74" fill="#249ff0" stroke="#1a6cc2" stroke-width="0.33"/>
<rect x="434.04" y="225.2" width="2.14" height="2.31" rx="0.49" fill="#a9dcfa"/>
<text x="430.78" y="230.23" font-size="1.9" textLength="8.65" lengthAdjust="spacingAndGlyphs" fill="#c0cae4" text-anchor="start" class="s">ULTRASONIC</text>
<rect x="446.56" y="224.13" width="4.61" height="4.45" rx="0.74" fill="#249ff0" stroke="#1a6cc2" stroke-width="0.33"/>
<rect x="447.8" y="225.2" width="2.14" height="2.31" rx="0.49" fill="#a9dcfa"/>
<text x="445.16" y="230.23" font-size="1.9" textLength="7.42" lengthAdjust="spacingAndGlyphs" fill="#c0cae4" text-anchor="start" class="s">SEMIWAVE</text>
<path d="M454.74 215.37A7.25 7.25 0 0 1 467.59 215.95" fill="none" stroke="#2a9ff0" stroke-width="0.91" stroke-linecap="round"/>
<path d="M463.72 212.24A7.25 7.25 0 0 1 467.59 215.95" fill="none" stroke="#2a9ff0" stroke-width="1.57" stroke-linecap="round"/>
<circle cx="461" cy="219" r="4.78" fill="#17140f"/>
<circle cx="461" cy="219" r="3.21" fill="url(#knob)"/>
<path d="M458.86 219H463.14M461 216.86V221.14M459.43 217.43L462.57 220.57M459.43 220.57L462.57 217.43" stroke="#6d7076" stroke-width="0.45" opacity="0.8"/>
<circle cx="461" cy="219" r="0.99" fill="#fafafa"/>
<text x="451.52" y="219.66" font-size="1.9" textLength="3.13" lengthAdjust="spacingAndGlyphs" fill="#c0cae4" text-anchor="start" class="s">MIN</text>
<text x="467.26" y="219.66" font-size="1.9" textLength="3.13" lengthAdjust="spacingAndGlyphs" fill="#c0cae4" text-anchor="start" class="s">MAX</text>
<text x="458.2" y="226.09" font-size="1.9" textLength="5.6" lengthAdjust="spacingAndGlyphs" fill="#c0cae4" text-anchor="start" class="s">POWER</text>
</g>
<g id="c4">
<path d="M53 370.5H65L64.2 375.6Q64 376.6 63 376.6H55Q54 376.6 53.8 375.6Z" fill="#1b1b1d"/>
<rect x="53.6" y="372.2" width="10.8" height="0.8" fill="#55575a"/>
<path d="M176.3 370.5H188.2L187.4 375.6Q187.2 376.6 186.2 376.6H178.3Q177.3 376.6 177.1 375.6Z" fill="#1b1b1d"/>
<rect x="176.9" y="372.2" width="10.7" height="0.8" fill="#55575a"/>
<path d="M47.6 266.5L46 270L43.4 277Q43.2 278.5 44.2 280L46 285.5H47.6Z" fill="#c3c7cf"/>
<path d="M45.7 272.5L44 277.3L45 279Z" fill="#f3f4f7"/>
<rect x="45.7" y="272.8" width="2.2" height="18.2" rx="0.8" fill="#2b2d31"/>
<path d="M194.5 266.5L196.1 270L198.7 277Q198.9 278.5 197.9 280L196.1 285.5H194.5Z" fill="#c3c7cf"/>
<path d="M196.4 272.5L198.1 277.3L197.1 279Z" fill="#f3f4f7"/>
<rect x="194.2" y="272.8" width="2.2" height="18" rx="0.8" fill="#2b2d31"/>
<rect x="47.5" y="251.4" width="147.1" height="119.6" fill="url(#steel4)"/>
<rect x="47.5" y="251.9" width="147.1" height="119.1" fill="url(#tex)"/>
<rect x="47.5" y="251.9" width="1" height="119.1" fill="#c3c6cb" opacity="0.8"/>
<rect x="193.6" y="251.9" width="1" height="119.1" fill="#c3c6cb" opacity="0.8"/>
<path d="M45.2 251.3L47 247.8H196.5L198.3 251.3V251.6H45.2Z" fill="#f3f3f4"/>
<rect x="46.8" y="247.8" width="149.9" height="0.8" fill="#e6e7e9"/>
<rect x="45.8" y="250" width="151.9" height="1.4" fill="#787a7f"/>
<path d="M45.2 251.2L46.7 248.9L47.8 248.9L47.4 251.4Z" fill="#3f4145"/>
<path d="M198.3 251.2L196.8 248.9L195.7 248.9L196.1 251.4Z" fill="#3f4145"/>
<rect x="47.5" y="251.4" width="147.1" height="0.8" fill="#c4c6ca" opacity="0.7"/>
<rect x="60.7" y="252.6" width="121.5" height="118.4" fill="#f1f1f2"/>
<rect x="60.7" y="252.6" width="121.5" height="1" fill="#e2e3e6"/>
<text x="68.4" y="270.25" font-size="9.95" textLength="106.6" lengthAdjust="spacingAndGlyphs" class="t" stroke-width="0.28">ULTRASONIC CLEANER</text>
<rect x="68.4" y="272.15" width="106.6" height="0.7" fill="#4e4e52"/>
<path d="M69.33 275Q71.59 275.9 72.76 278.3L73.84 277.1L74.92 278.3Q76.09 275.9 78.35 275Q77.45 279.8 73.84 281Q70.23 279.8 69.33 275Z" fill="none" fill-opacity="0.45" stroke="#a9a9ab" stroke-width="0.45"/>
<path d="M80.33 275Q82.59 275.9 83.76 278.3L84.84 277.1L85.92 278.3Q87.09 275.9 89.35 275Q88.45 279.8 84.84 281Q81.23 279.8 80.33 275Z" fill="#8b8b8e" fill-opacity="0.45" stroke="#8b8b8e" stroke-width="0.55"/>
<path d="M91.33 275Q93.59 275.9 94.76 278.3L95.84 277.1L96.92 278.3Q98.09 275.9 100.35 275Q99.45 279.8 95.84 281Q92.23 279.8 91.33 275Z" fill="#7a7a7e" fill-opacity="0.45" stroke="#7a7a7e" stroke-width="0.6"/>
<clipPath id="cp4"><rect x="60.7" y="252.6" width="121.5" height="118.4"/></clipPath>
<g clip-path="url(#cp4)">
<path d="M60.7 295.6C61.21 296.1 62.69 297.7 63.74 298.62C64.78 299.53 64.49 299.82 66.96 301.1C69.43 302.39 74.68 305.05 78.56 306.31C82.44 307.56 86.34 308.15 90.22 308.64C94.11 309.13 98 309.25 101.89 309.25C105.78 309.25 110.52 308.88 113.55 308.64C116.59 308.41 118.19 308.17 120.11 307.81C122.04 307.46 123.15 307.15 125.09 306.53C127.04 305.92 128.74 305.21 131.78 304.12C134.81 303.03 139.45 301.04 143.32 299.97C147.19 298.91 151.1 298.28 154.98 297.71C158.87 297.15 162.11 296.71 166.65 296.58C171.18 296.45 179.61 296.89 182.2 296.96L182.2 365.5C181.69 365.29 180.66 364.79 179.16 364.29C177.66 363.79 175.19 363.02 173.21 362.48C171.22 361.94 169.4 361.41 167.26 361.05C165.11 360.68 163.16 360.46 160.33 360.29C157.49 360.13 153.59 360.03 150.25 360.07C146.9 360.1 143.06 360.31 140.28 360.52C137.51 360.73 136.13 360.92 133.6 361.35C131.07 361.78 127.99 362.38 125.09 363.08C122.2 363.79 119.36 364.96 116.23 365.57C113.09 366.19 109.58 366.5 106.26 366.78C102.94 367.05 99.64 367.19 96.3 367.23C92.96 367.27 89.56 367.2 86.22 367C82.87 366.8 79.57 366.53 76.25 366.02C72.93 365.52 68.88 364.58 66.29 363.99C63.7 363.4 61.63 362.73 60.7 362.48Z" fill="#0a2d6f"/>
<rect x="60.7" y="297.6" width="0.9" height="67.86" fill="#061d4c" opacity="0.85"/>
<path d="M60.7 362.48C61.63 362.73 63.7 363.4 66.29 363.99C68.88 364.58 72.93 365.52 76.25 366.02C79.57 366.53 82.87 366.8 86.22 367C89.56 367.2 92.96 367.27 96.3 367.23C99.64 367.19 102.94 367.05 106.26 366.78C109.58 366.5 113.09 366.19 116.23 365.57C119.36 364.96 122.2 363.79 125.09 363.08C127.99 362.38 131.07 361.78 133.6 361.35C136.13 360.92 137.51 360.73 140.28 360.52C143.06 360.31 146.9 360.1 150.25 360.07C153.59 360.03 157.49 360.13 160.33 360.29C163.16 360.46 165.11 360.68 167.26 361.05C169.4 361.41 171.22 361.94 173.21 362.48C175.19 363.02 177.66 363.79 179.16 364.29C180.66 364.79 181.69 365.29 182.2 365.5L182.2 373.26L60.7 373.26Z" fill="url(#bb4)"/>
<path d="M60.7 362.48C61.63 362.73 63.7 363.4 66.29 363.99C68.88 364.58 72.93 365.52 76.25 366.02C79.57 366.53 82.87 366.8 86.22 367C89.56 367.2 92.96 367.27 96.3 367.23C99.64 367.19 102.94 367.05 106.26 366.78C109.58 366.5 113.09 366.19 116.23 365.57C119.36 364.96 122.2 363.79 125.09 363.08C127.99 362.38 131.07 361.78 133.6 361.35C136.13 360.92 137.51 360.73 140.28 360.52C143.06 360.31 146.9 360.1 150.25 360.07C153.59 360.03 157.49 360.13 160.33 360.29C163.16 360.46 165.11 360.68 167.26 361.05C169.4 361.41 171.22 361.94 173.21 362.48C175.19 363.02 177.66 363.79 179.16 364.29C180.66 364.79 181.69 365.29 182.2 365.5" fill="none" stroke="#e8f2fb" stroke-width="0.8"/>
<path d="M60.7 314.37C63.68 314.6 73.64 315.49 78.56 315.73C83.48 315.97 86.34 316.02 90.22 315.81C94.11 315.59 98 315.17 101.89 314.45C105.78 313.73 109.68 312.74 113.55 311.51C117.42 310.28 122.06 308.29 125.09 307.06C128.13 305.83 128.74 305.3 131.78 304.12C134.81 302.94 139.45 301.04 143.32 299.97C147.19 298.91 151.1 298.28 154.98 297.71C158.87 297.15 162.11 296.71 166.65 296.58C171.18 296.45 179.61 296.89 182.2 296.96L182.2 297.94C180.58 298.05 176.15 298 172.48 298.62C168.81 299.23 164.2 300.31 160.21 301.63C156.22 302.95 152.43 304.9 148.54 306.53C144.66 308.17 140.79 310 136.88 311.43C132.97 312.87 128.98 314.11 125.09 315.13C121.21 316.15 117.42 316.85 113.55 317.54C109.68 318.23 105.78 318.9 101.89 319.28C98 319.65 94.11 319.82 90.22 319.8C86.34 319.79 82.44 319.63 78.56 319.2C74.68 318.77 69.93 317.96 66.96 317.24C63.98 316.52 61.74 315.29 60.7 314.9Z" fill="url(#sw4)"/>
<path d="M60.7 314.37C63.68 314.6 73.64 315.49 78.56 315.73C83.48 315.97 86.34 316.02 90.22 315.81C94.11 315.59 98 315.17 101.89 314.45C105.78 313.73 109.68 312.74 113.55 311.51C117.42 310.28 123.17 307.8 125.09 307.06" fill="none" stroke="#f2f4f8" stroke-width="0.9"/>
<path d="M60.7 315.35C61.74 315.78 63.98 317.15 66.96 317.92C69.93 318.68 74.68 319.5 78.56 319.95C82.44 320.41 86.34 320.6 90.22 320.63C94.11 320.67 98 320.54 101.89 320.18C105.78 319.82 109.66 319.12 113.55 318.45C117.44 317.77 122.18 316.86 125.22 316.11C128.25 315.35 128.76 314.78 131.78 313.92C134.79 313.07 139.45 311.75 143.32 310.98C147.19 310.22 151.1 309.47 154.98 309.32C158.87 309.17 163.33 309.6 166.65 310.08C169.97 310.55 172.32 311.36 174.91 312.19C177.5 313.02 180.98 314.58 182.2 315.05" fill="none" stroke="#d3dbec" stroke-width="1"/>
</g>
<rect x="94.94" y="326.8" width="19.17" height="6.19" fill="#3a3a3e"/>
<text x="94.64" y="333.14" font-size="9.38" textLength="19.77" lengthAdjust="spacingAndGlyphs" class="led" stroke-width="0.45">8888</text>
<rect x="128.89" y="326.8" width="19.17" height="6.19" fill="#3a3a3e"/>
<text x="128.59" y="333.14" font-size="9.38" textLength="19.77" lengthAdjust="spacingAndGlyphs" class="led" stroke-width="0.45">8888</text>
<text x="94.94" y="335.49" font-size="2.5" textLength="5.79" lengthAdjust="spacingAndGlyphs" fill="#c0cae4" text-anchor="start" class="s">SET°C</text>
<text x="104.83" y="335.49" font-size="2.5" textLength="9.28" lengthAdjust="spacingAndGlyphs" fill="#c0cae4" text-anchor="start" class="s">ACTUAL°C</text>
<text x="129.89" y="335.49" font-size="2.5" textLength="6.39" lengthAdjust="spacingAndGlyphs" fill="#c0cae4" text-anchor="start" class="s">MINUTE</text>
<text x="138.57" y="335.49" font-size="2.5" textLength="7.59" lengthAdjust="spacingAndGlyphs" fill="#c0cae4" text-anchor="start" class="s">SECOND</text>
<rect x="116.11" y="333.09" width="1.5" height="1.5" fill="#a07a44"/>
<rect x="125.59" y="333.09" width="1.5" height="1.5" fill="#a07a44"/>
<rect x="152.55" y="325" width="1.5" height="1.5" fill="#a07a44"/>
<rect x="152.55" y="329.1" width="1.5" height="1.5" fill="#a07a44"/>
<text x="155.44" y="326.6" font-size="2.3" textLength="5.49" lengthAdjust="spacingAndGlyphs" fill="#c0cae4" text-anchor="start" class="s">DEGAS</text>
<text x="155.44" y="330.69" font-size="2.3" textLength="8.49" lengthAdjust="spacingAndGlyphs" fill="#c0cae4" text-anchor="start" class="s">SEMIWAVE</text>
<rect x="96.34" y="339.88" width="5.59" height="5.49" rx="1.4" fill="#f6f7fb" stroke="#5f75ae" stroke-width="0.5"/>
<rect x="98.44" y="341.08" width="1.4" height="3.09" rx="0.5" fill="#4a5d92"/>
<rect x="97.34" y="342.07" width="0.8" height="1.2" fill="#7e8db8"/>
<text x="96.84" y="347.37" font-size="2.2" textLength="4.59" lengthAdjust="spacingAndGlyphs" fill="#c0cae4" text-anchor="start" class="s">TEMP+</text>
<rect x="107.42" y="339.88" width="5.59" height="5.49" rx="1.4" fill="#f6f7fb" stroke="#5f75ae" stroke-width="0.5"/>
<rect x="109.52" y="341.08" width="1.4" height="3.09" rx="0.5" fill="#4a5d92"/>
<rect x="108.42" y="342.07" width="0.8" height="1.2" fill="#7e8db8"/>
<text x="107.92" y="347.37" font-size="2.2" textLength="4.59" lengthAdjust="spacingAndGlyphs" fill="#c0cae4" text-anchor="start" class="s">TEMP-</text>
<rect x="130.39" y="339.88" width="5.59" height="5.49" rx="1.4" fill="#f6f7fb" stroke="#5f75ae" stroke-width="0.5"/>
<path d="M131.28 342.57H135.08M133.18 340.58V344.67" stroke="#5c6ea3" stroke-width="1"/>
<text x="130.88" y="347.37" font-size="2.2" textLength="4.59" lengthAdjust="spacingAndGlyphs" fill="#c0cae4" text-anchor="start" class="s">TIME+</text>
<rect x="141.57" y="339.88" width="5.59" height="5.49" rx="1.4" fill="#f6f7fb" stroke="#5f75ae" stroke-width="0.5"/>
<path d="M142.47 342.57H146.26M144.36 340.58V344.67" stroke="#5c6ea3" stroke-width="1"/>
<text x="142.07" y="347.37" font-size="2.2" textLength="4.59" lengthAdjust="spacingAndGlyphs" fill="#c0cae4" text-anchor="start" class="s">TIME-</text>
<rect x="101.93" y="348.36" width="5.59" height="5.39" rx="0.9" fill="#249ff0" stroke="#1a6cc2" stroke-width="0.4"/>
<rect x="103.43" y="349.66" width="2.6" height="2.8" rx="0.6" fill="#a9dcfa"/>
<text x="101.23" y="355.75" font-size="2.3" textLength="6.99" lengthAdjust="spacingAndGlyphs" fill="#c0cae4" text-anchor="start" class="s">HEATER</text>
<rect x="118.7" y="348.36" width="5.59" height="5.39" rx="0.9" fill="#249ff0" stroke="#1a6cc2" stroke-width="0.4"/>
<rect x="120.2" y="349.66" width="2.6" height="2.8" rx="0.6" fill="#a9dcfa"/>
<text x="118.6" y="355.75" font-size="2.3" textLength="5.79" lengthAdjust="spacingAndGlyphs" fill="#c0cae4" text-anchor="start" class="s">DEGAS</text>
<rect x="135.58" y="348.36" width="5.59" height="5.39" rx="0.9" fill="#249ff0" stroke="#1a6cc2" stroke-width="0.4"/>
<rect x="137.07" y="349.66" width="2.6" height="2.8" rx="0.6" fill="#a9dcfa"/>
<text x="133.13" y="355.75" font-size="2.3" textLength="10.48" lengthAdjust="spacingAndGlyphs" fill="#c0cae4" text-anchor="start" class="s">ULTRASONIC</text>
<rect x="152.25" y="348.36" width="5.59" height="5.39" rx="0.9" fill="#249ff0" stroke="#1a6cc2" stroke-width="0.4"/>
<rect x="153.75" y="349.66" width="2.6" height="2.8" rx="0.6" fill="#a9dcfa"/>
<text x="150.55" y="355.75" font-size="2.3" textLength="8.99" lengthAdjust="spacingAndGlyphs" fill="#c0cae4" text-anchor="start" class="s">SEMIWAVE</text>
<path d="M162.41 340.01A8.79 8.79 0 0 1 177.99 340.71" fill="none" stroke="#2a9ff0" stroke-width="1.1" stroke-linecap="round"/>
<path d="M173.29 336.21A8.79 8.79 0 0 1 177.99 340.71" fill="none" stroke="#2a9ff0" stroke-width="1.9" stroke-linecap="round"/>
<circle cx="170" cy="344.4" r="5.79" fill="#17140f"/>
<circle cx="170" cy="344.4" r="3.89" fill="url(#knob)"/>
<path d="M167.4 344.4H172.6M170 341.8V347M168.1 342.5L171.9 346.3M168.1 346.3L171.9 342.5" stroke="#6d7076" stroke-width="0.55" opacity="0.8"/>
<circle cx="170" cy="344.4" r="1.2" fill="#fafafa"/>
<text x="158.52" y="345.2" font-size="2.3" textLength="3.79" lengthAdjust="spacingAndGlyphs" fill="#c0cae4" text-anchor="start" class="s">MIN</text>
<text x="177.59" y="345.2" font-size="2.3" textLength="3.79" lengthAdjust="spacingAndGlyphs" fill="#c0cae4" text-anchor="start" class="s">MAX</text>
<text x="166.61" y="352.99" font-size="2.3" textLength="6.79" lengthAdjust="spacingAndGlyphs" fill="#c0cae4" text-anchor="start" class="s">POWER</text>
</g>
<g id="c5">
<path d="M223.6 370.5H235.6L234.8 375.6Q234.6 376.6 233.6 376.6H225.6Q224.6 376.6 224.4 375.6Z" fill="#1b1b1d"/>
<rect x="224.2" y="372.2" width="10.8" height="0.8" fill="#55575a"/>
<path d="M357 370.5H369L368.2 375.6Q368 376.6 367 376.6H359Q358 376.6 357.8 375.6Z" fill="#1b1b1d"/>
<rect x="357.6" y="372.2" width="10.8" height="0.8" fill="#55575a"/>
<path d="M215.7 266.5L214.1 270L211.5 277Q211.3 278.5 212.3 280L214.1 285.5H215.7Z" fill="#c3c7cf"/>
<path d="M213.8 272.5L212.1 277.3L213.1 279Z" fill="#f3f4f7"/>
<rect x="213.8" y="272.8" width="2.2" height="17.7" rx="0.8" fill="#2b2d31"/>
<path d="M379.5 269.5L381.1 273L383.7 280Q383.9 281.5 382.9 283L381.1 288.5H379.5Z" fill="#c3c7cf"/>
<path d="M381.4 275.5L383.1 280.3L382.1 282Z" fill="#f3f4f7"/>
<rect x="379.2" y="275.8" width="2.2" height="19.2" rx="0.8" fill="#2b2d31"/>
<rect x="379.8" y="343.08" width="7.37" height="15.31" rx="1.45" fill="url(#brass)"/>
<rect x="386.78" y="347.15" width="6.01" height="9.98" rx="1.26" fill="url(#brass2)"/>
<rect x="381.74" y="340.85" width="3.39" height="2.52" fill="#cfd3dc"/>
<path d="M379.8 336H389.01L392.59 340.46Q392.59 341.23 391.43 341.23H382.32Z" fill="#1b2f86"/>
<path d="M380.09 336.19H388.91L390.66 338.33H381.35Z" fill="#8d9bc8" opacity="0.9"/>
<rect x="380.96" y="347.63" width="1.55" height="8.72" fill="#f1e39a" opacity="0.55"/>
<path d="M386.97 349.76H392.59M386.97 352.09H392.59M386.97 354.42H392.59" stroke="#9a7a1e" stroke-width="0.48" opacity="0.6"/>
<rect x="215.6" y="251.9" width="164" height="119.1" fill="url(#steel5)"/>
<rect x="215.6" y="252.4" width="164" height="118.6" fill="url(#tex)"/>
<rect x="215.6" y="252.4" width="1" height="118.6" fill="#c3c6cb" opacity="0.8"/>
<rect x="378.6" y="252.4" width="1" height="118.6" fill="#c3c6cb" opacity="0.8"/>
<path d="M213 251.8L214.8 248.4H380.6L382.4 251.8V252.1H213Z" fill="#f3f3f4"/>
<rect x="214.6" y="248.4" width="166.2" height="0.8" fill="#e6e7e9"/>
<rect x="213.6" y="250.5" width="168.2" height="1.4" fill="#787a7f"/>
<path d="M213 251.7L214.5 249.4L215.6 249.4L215.2 251.9Z" fill="#3f4145"/>
<path d="M382.4 251.7L380.9 249.4L379.8 249.4L380.2 251.9Z" fill="#3f4145"/>
<rect x="215.6" y="251.9" width="164" height="0.8" fill="#c4c6ca" opacity="0.7"/>
<rect x="235.2" y="253" width="121.2" height="118" fill="#f1f1f2"/>
<rect x="235.2" y="253" width="121.2" height="1" fill="#e2e3e6"/>
<text x="243" y="270.25" font-size="9.95" textLength="106.6" lengthAdjust="spacingAndGlyphs" class="t" stroke-width="0.28">ULTRASONIC CLEANER</text>
<rect x="243" y="272.15" width="106.6" height="0.7" fill="#4e4e52"/>
<path d="M243.93 275Q246.22 275.9 247.4 278.3L248.5 277.1L249.59 278.3Q250.78 275.9 253.06 275Q252.15 279.8 248.5 281Q244.85 279.8 243.93 275Z" fill="none" fill-opacity="0.45" stroke="#a9a9ab" stroke-width="0.45"/>
<path d="M255.07 275Q257.35 275.9 258.54 278.3L259.63 277.1L260.73 278.3Q261.91 275.9 264.2 275Q263.28 279.8 259.63 281Q255.98 279.8 255.07 275Z" fill="#8b8b8e" fill-opacity="0.45" stroke="#8b8b8e" stroke-width="0.55"/>
<path d="M266.2 275Q268.48 275.9 269.67 278.3L270.77 277.1L271.86 278.3Q273.05 275.9 275.33 275Q274.42 279.8 270.77 281Q267.11 279.8 266.2 275Z" fill="#7a7a7e" fill-opacity="0.45" stroke="#7a7a7e" stroke-width="0.6"/>
<clipPath id="cp5"><rect x="235.2" y="253" width="121.2" height="118"/></clipPath>
<g clip-path="url(#cp5)">
<path d="M235.2 295.6C235.7 296.1 237.19 297.7 238.23 298.62C239.27 299.53 238.98 299.82 241.44 301.1C243.91 302.39 249.15 305.05 253.02 306.31C256.88 307.56 260.77 308.15 264.65 308.64C268.53 309.13 272.41 309.25 276.29 309.25C280.17 309.25 284.89 308.88 287.92 308.64C290.95 308.41 292.55 308.17 294.47 307.81C296.39 307.46 297.5 307.15 299.44 306.53C301.38 305.92 303.07 305.21 306.1 304.12C309.13 303.03 313.76 301.04 317.62 299.97C321.47 298.91 325.37 298.28 329.25 297.71C333.13 297.15 336.36 296.71 340.89 296.58C345.41 296.45 353.81 296.89 356.4 296.96L356.4 365.5C355.89 365.29 354.86 364.79 353.37 364.29C351.88 363.79 349.41 363.02 347.43 362.48C345.45 361.94 343.63 361.41 341.49 361.05C339.35 360.68 337.41 360.46 334.58 360.29C331.76 360.13 327.86 360.03 324.52 360.07C321.19 360.1 317.35 360.31 314.59 360.52C311.82 360.73 310.44 360.92 307.92 361.35C305.39 361.78 302.32 362.38 299.44 363.08C296.55 363.79 293.72 364.96 290.59 365.57C287.46 366.19 283.96 366.5 280.65 366.78C277.34 367.05 274.04 367.19 270.71 367.23C267.38 367.27 263.99 367.2 260.65 367C257.32 366.8 254.03 366.53 250.71 366.02C247.4 365.52 243.36 364.58 240.78 363.99C238.19 363.4 236.13 362.73 235.2 362.48Z" fill="#0a2d6f"/>
<rect x="235.2" y="297.6" width="0.9" height="67.86" fill="#061d4c" opacity="0.85"/>
<path d="M235.2 362.48C236.13 362.73 238.19 363.4 240.78 363.99C243.36 364.58 247.4 365.52 250.71 366.02C254.03 366.53 257.32 366.8 260.65 367C263.99 367.2 267.38 367.27 270.71 367.23C274.04 367.19 277.34 367.05 280.65 366.78C283.96 366.5 287.46 366.19 290.59 365.57C293.72 364.96 296.55 363.79 299.44 363.08C302.32 362.38 305.39 361.78 307.92 361.35C310.44 360.92 311.82 360.73 314.59 360.52C317.35 360.31 321.19 360.1 324.52 360.07C327.86 360.03 331.76 360.13 334.58 360.29C337.41 360.46 339.35 360.68 341.49 361.05C343.63 361.41 345.45 361.94 347.43 362.48C349.41 363.02 351.88 363.79 353.37 364.29C354.86 364.79 355.89 365.29 356.4 365.5L356.4 373.26L235.2 373.26Z" fill="url(#bb5)"/>
<path d="M235.2 362.48C236.13 362.73 238.19 363.4 240.78 363.99C243.36 364.58 247.4 365.52 250.71 366.02C254.03 366.53 257.32 366.8 260.65 367C263.99 367.2 267.38 367.27 270.71 367.23C274.04 367.19 277.34 367.05 280.65 366.78C283.96 366.5 287.46 366.19 290.59 365.57C293.72 364.96 296.55 363.79 299.44 363.08C302.32 362.38 305.39 361.78 307.92 361.35C310.44 360.92 311.82 360.73 314.59 360.52C317.35 360.31 321.19 360.1 324.52 360.07C327.86 360.03 331.76 360.13 334.58 360.29C337.41 360.46 339.35 360.68 341.49 361.05C343.63 361.41 345.45 361.94 347.43 362.48C349.41 363.02 351.88 363.79 353.37 364.29C354.86 364.79 355.89 365.29 356.4 365.5" fill="none" stroke="#e8f2fb" stroke-width="0.8"/>
<path d="M235.2 314.37C238.17 314.6 248.11 315.49 253.02 315.73C257.92 315.97 260.77 316.02 264.65 315.81C268.53 315.59 272.41 315.17 276.29 314.45C280.17 313.73 284.06 312.74 287.92 311.51C291.78 310.28 296.41 308.29 299.44 307.06C302.47 305.83 303.07 305.3 306.1 304.12C309.13 302.94 313.76 301.04 317.62 299.97C321.47 298.91 325.37 298.28 329.25 297.71C333.13 297.15 336.36 296.71 340.89 296.58C345.41 296.45 353.81 296.89 356.4 296.96L356.4 297.94C354.78 298.05 350.36 298 346.7 298.62C343.05 299.23 338.44 300.31 334.46 301.63C330.48 302.95 326.71 304.9 322.83 306.53C318.95 308.17 315.09 310 311.19 311.43C307.29 312.87 303.31 314.11 299.44 315.13C295.56 316.15 291.78 316.85 287.92 317.54C284.06 318.23 280.17 318.9 276.29 319.28C272.41 319.65 268.53 319.82 264.65 319.8C260.77 319.79 256.88 319.63 253.02 319.2C249.15 318.77 244.41 317.96 241.44 317.24C238.47 316.52 236.24 315.29 235.2 314.9Z" fill="url(#sw5)"/>
<path d="M235.2 314.37C238.17 314.6 248.11 315.49 253.02 315.73C257.92 315.97 260.77 316.02 264.65 315.81C268.53 315.59 272.41 315.17 276.29 314.45C280.17 313.73 284.06 312.74 287.92 311.51C291.78 310.28 297.52 307.8 299.44 307.06" fill="none" stroke="#f2f4f8" stroke-width="0.9"/>
<path d="M235.2 315.35C236.24 315.78 238.47 317.15 241.44 317.92C244.41 318.68 249.15 319.5 253.02 319.95C256.88 320.41 260.77 320.6 264.65 320.63C268.53 320.67 272.41 320.54 276.29 320.18C280.17 319.82 284.04 319.12 287.92 318.45C291.8 317.77 296.53 316.86 299.56 316.11C302.59 315.35 303.09 314.78 306.1 313.92C309.11 313.07 313.76 311.75 317.62 310.98C321.47 310.22 325.37 309.47 329.25 309.32C333.13 309.17 337.57 309.6 340.89 310.08C344.2 310.55 346.54 311.36 349.13 312.19C351.71 313.02 355.19 314.58 356.4 315.05" fill="none" stroke="#d3dbec" stroke-width="1"/>
</g>
<rect x="269.36" y="326.8" width="19.12" height="6.17" fill="#3a3a3e"/>
<text x="269.06" y="333.12" font-size="9.36" textLength="19.72" lengthAdjust="spacingAndGlyphs" class="led" stroke-width="0.45">8888</text>
<rect x="303.22" y="326.8" width="19.12" height="6.17" fill="#3a3a3e"/>
<text x="302.92" y="333.12" font-size="9.36" textLength="19.72" lengthAdjust="spacingAndGlyphs" class="led" stroke-width="0.45">8888</text>
<text x="269.36" y="335.46" font-size="2.49" textLength="5.78" lengthAdjust="spacingAndGlyphs" fill="#c0cae4" text-anchor="start" class="s">SET°C</text>
<text x="279.22" y="335.46" font-size="2.49" textLength="9.26" lengthAdjust="spacingAndGlyphs" fill="#c0cae4" text-anchor="start" class="s">ACTUAL°C</text>
<text x="304.22" y="335.46" font-size="2.49" textLength="6.37" lengthAdjust="spacingAndGlyphs" fill="#c0cae4" text-anchor="start" class="s">MINUTE</text>
<text x="312.88" y="335.46" font-size="2.49" textLength="7.57" lengthAdjust="spacingAndGlyphs" fill="#c0cae4" text-anchor="start" class="s">SECOND</text>
<rect x="290.47" y="333.07" width="1.49" height="1.49" fill="#a07a44"/>
<rect x="299.93" y="333.07" width="1.49" height="1.49" fill="#a07a44"/>
<rect x="326.82" y="325.01" width="1.49" height="1.49" fill="#a07a44"/>
<rect x="326.82" y="329.09" width="1.49" height="1.49" fill="#a07a44"/>
<text x="329.71" y="326.6" font-size="2.29" textLength="5.48" lengthAdjust="spacingAndGlyphs" fill="#c0cae4" text-anchor="start" class="s">DEGAS</text>
<text x="329.71" y="330.68" font-size="2.29" textLength="8.47" lengthAdjust="spacingAndGlyphs" fill="#c0cae4" text-anchor="start" class="s">SEMIWAVE</text>
<rect x="270.75" y="339.84" width="5.58" height="5.48" rx="1.39" fill="#f6f7fb" stroke="#5f75ae" stroke-width="0.5"/>
<rect x="272.84" y="341.04" width="1.39" height="3.09" rx="0.5" fill="#4a5d92"/>
<rect x="271.75" y="342.04" width="0.8" height="1.2" fill="#7e8db8"/>
<text x="271.25" y="347.31" font-size="2.19" textLength="4.58" lengthAdjust="spacingAndGlyphs" fill="#c0cae4" text-anchor="start" class="s">TEMP+</text>
<rect x="281.81" y="339.84" width="5.58" height="5.48" rx="1.39" fill="#f6f7fb" stroke="#5f75ae" stroke-width="0.5"/>
<rect x="283.9" y="341.04" width="1.39" height="3.09" rx="0.5" fill="#4a5d92"/>
<rect x="282.8" y="342.04" width="0.8" height="1.2" fill="#7e8db8"/>
<text x="282.31" y="347.31" font-size="2.19" textLength="4.58" lengthAdjust="spacingAndGlyphs" fill="#c0cae4" text-anchor="start" class="s">TEMP-</text>
<rect x="304.71" y="339.84" width="5.58" height="5.48" rx="1.39" fill="#f6f7fb" stroke="#5f75ae" stroke-width="0.5"/>
<path d="M305.61 342.53H309.39M307.5 340.54V344.62" stroke="#5c6ea3" stroke-width="1"/>
<text x="305.21" y="347.31" font-size="2.19" textLength="4.58" lengthAdjust="spacingAndGlyphs" fill="#c0cae4" text-anchor="start" class="s">TIME+</text>
<rect x="315.87" y="339.84" width="5.58" height="5.48" rx="1.39" fill="#f6f7fb" stroke="#5f75ae" stroke-width="0.5"/>
<path d="M316.76 342.53H320.55M318.66 340.54V344.62" stroke="#5c6ea3" stroke-width="1"/>
<text x="316.37" y="347.31" font-size="2.19" textLength="4.58" lengthAdjust="spacingAndGlyphs" fill="#c0cae4" text-anchor="start" class="s">TIME-</text>
<rect x="276.33" y="348.31" width="5.58" height="5.38" rx="0.9" fill="#249ff0" stroke="#1a6cc2" stroke-width="0.4"/>
<rect x="277.82" y="349.6" width="2.59" height="2.79" rx="0.6" fill="#a9dcfa"/>
<text x="275.63" y="355.68" font-size="2.29" textLength="6.97" lengthAdjust="spacingAndGlyphs" fill="#c0cae4" text-anchor="start" class="s">HEATER</text>
<rect x="293.06" y="348.31" width="5.58" height="5.38" rx="0.9" fill="#249ff0" stroke="#1a6cc2" stroke-width="0.4"/>
<rect x="294.56" y="349.6" width="2.59" height="2.79" rx="0.6" fill="#a9dcfa"/>
<text x="292.96" y="355.68" font-size="2.29" textLength="5.78" lengthAdjust="spacingAndGlyphs" fill="#c0cae4" text-anchor="start" class="s">DEGAS</text>
<rect x="309.89" y="348.31" width="5.58" height="5.38" rx="0.9" fill="#249ff0" stroke="#1a6cc2" stroke-width="0.4"/>
<rect x="311.39" y="349.6" width="2.59" height="2.79" rx="0.6" fill="#a9dcfa"/>
<text x="307.45" y="355.68" font-size="2.29" textLength="10.46" lengthAdjust="spacingAndGlyphs" fill="#c0cae4" text-anchor="start" class="s">ULTRASONIC</text>
<rect x="326.52" y="348.31" width="5.58" height="5.38" rx="0.9" fill="#249ff0" stroke="#1a6cc2" stroke-width="0.4"/>
<rect x="328.02" y="349.6" width="2.59" height="2.79" rx="0.6" fill="#a9dcfa"/>
<text x="324.83" y="355.68" font-size="2.29" textLength="8.96" lengthAdjust="spacingAndGlyphs" fill="#c0cae4" text-anchor="start" class="s">SEMIWAVE</text>
<path d="M336.43 340.02A8.76 8.76 0 0 1 351.97 340.72" fill="none" stroke="#2a9ff0" stroke-width="1.1" stroke-linecap="round"/>
<path d="M347.29 336.23A8.76 8.76 0 0 1 351.97 340.72" fill="none" stroke="#2a9ff0" stroke-width="1.89" stroke-linecap="round"/>
<circle cx="344" cy="344.4" r="5.78" fill="#17140f"/>
<circle cx="344" cy="344.4" r="3.88" fill="url(#knob)"/>
<path d="M341.41 344.4H346.59M344 341.81V346.99M342.11 342.51L345.89 346.29M342.11 346.29L345.89 342.51" stroke="#6d7076" stroke-width="0.55" opacity="0.8"/>
<circle cx="344" cy="344.4" r="1.2" fill="#fafafa"/>
<text x="332.55" y="345.2" font-size="2.29" textLength="3.78" lengthAdjust="spacingAndGlyphs" fill="#c0cae4" text-anchor="start" class="s">MIN</text>
<text x="351.57" y="345.2" font-size="2.29" textLength="3.78" lengthAdjust="spacingAndGlyphs" fill="#c0cae4" text-anchor="start" class="s">MAX</text>
<text x="340.61" y="352.96" font-size="2.29" textLength="6.77" lengthAdjust="spacingAndGlyphs" fill="#c0cae4" text-anchor="start" class="s">POWER</text>
</g>
<g id="c6">
<path d="M406 371.1H418L417.2 376.2Q417 377.2 416 377.2H408Q407 377.2 406.8 376.2Z" fill="#1b1b1d"/>
<rect x="406.6" y="372.8" width="10.8" height="0.8" fill="#55575a"/>
<path d="M531 371.1H543L542.2 376.2Q542 377.2 541 377.2H533Q532 377.2 531.8 376.2Z" fill="#1b1b1d"/>
<rect x="531.6" y="372.8" width="10.8" height="0.8" fill="#55575a"/>
<path d="M401.2 268L399.6 271.5L397 278.5Q396.8 280 397.8 281.5L399.6 287H401.2Z" fill="#c3c7cf"/>
<path d="M399.3 274L397.6 278.8L398.6 280.5Z" fill="#f3f4f7"/>
<rect x="399.3" y="274.3" width="2.2" height="19.2" rx="0.8" fill="#2b2d31"/>
<path d="M551.6 266.5L553.2 270L555.8 277Q556 278.5 555 280L553.2 285.5H551.6Z" fill="#c3c7cf"/>
<path d="M553.5 272.5L555.2 277.3L554.2 279Z" fill="#f3f4f7"/>
<rect x="551.3" y="272.8" width="2.2" height="18" rx="0.8" fill="#2b2d31"/>
<rect x="551.6" y="343.53" width="8.07" height="16.77" rx="1.59" fill="url(#brass)"/>
<rect x="559.24" y="348.01" width="6.58" height="10.93" rx="1.38" fill="url(#brass2)"/>
<rect x="553.72" y="341.11" width="3.72" height="2.76" fill="#cfd3dc"/>
<path d="M551.6 335.8H561.68L565.61 340.68Q565.61 341.53 564.34 341.53H554.36Z" fill="#1b2f86"/>
<path d="M551.92 336.01H561.58L563.49 338.35H553.3Z" fill="#8d9bc8" opacity="0.9"/>
<rect x="552.87" y="348.54" width="1.7" height="9.55" fill="#f1e39a" opacity="0.55"/>
<path d="M559.46 350.87H565.61M559.46 353.42H565.61M559.46 355.97H565.61" stroke="#9a7a1e" stroke-width="0.53" opacity="0.6"/>
<rect x="401" y="252.9" width="150.6" height="118.7" fill="url(#steel6)"/>
<rect x="401" y="253.4" width="150.6" height="118.2" fill="url(#tex)"/>
<rect x="401" y="253.4" width="1" height="118.2" fill="#c3c6cb" opacity="0.8"/>
<rect x="550.6" y="253.4" width="1" height="118.2" fill="#c3c6cb" opacity="0.8"/>
<path d="M398 252.8L399.8 249H552L553.8 252.8V253.1H398Z" fill="#f3f3f4"/>
<rect x="399.6" y="249" width="152.6" height="0.8" fill="#e6e7e9"/>
<rect x="398.6" y="251.5" width="154.6" height="1.4" fill="#787a7f"/>
<path d="M398 252.7L399.5 250.4L400.6 250.4L400.2 252.9Z" fill="#3f4145"/>
<path d="M553.8 252.7L552.3 250.4L551.2 250.4L551.6 252.9Z" fill="#3f4145"/>
<rect x="401" y="252.9" width="150.6" height="0.8" fill="#c4c6ca" opacity="0.7"/>
<rect x="416.2" y="253.8" width="122.1" height="117.8" fill="#f1f1f2"/>
<rect x="416.2" y="253.8" width="122.1" height="1" fill="#e2e3e6"/>
<text x="424" y="271.05" font-size="9.95" textLength="106.4" lengthAdjust="spacingAndGlyphs" class="t" stroke-width="0.28">ULTRASONIC CLEANER</text>
<rect x="424" y="273.05" width="106.4" height="0.7" fill="#4e4e52"/>
<path d="M424.93 276Q427.22 276.9 428.4 279.3L429.5 278.1L430.59 279.3Q431.78 276.9 434.06 276Q433.15 280.8 429.5 282Q425.85 280.8 424.93 276Z" fill="none" fill-opacity="0.45" stroke="#a9a9ab" stroke-width="0.45"/>
<path d="M436.07 276Q438.35 276.9 439.54 279.3L440.63 278.1L441.73 279.3Q442.91 276.9 445.2 276Q444.28 280.8 440.63 282Q436.98 280.8 436.07 276Z" fill="#8b8b8e" fill-opacity="0.45" stroke="#8b8b8e" stroke-width="0.55"/>
<path d="M447.2 276Q449.48 276.9 450.67 279.3L451.77 278.1L452.86 279.3Q454.05 276.9 456.33 276Q455.42 280.8 451.77 282Q448.11 280.8 447.2 276Z" fill="#7a7a7e" fill-opacity="0.45" stroke="#7a7a7e" stroke-width="0.6"/>
<clipPath id="cp6"><rect x="416.2" y="253.8" width="122.1" height="117.8"/></clipPath>
<g clip-path="url(#cp6)">
<path d="M416.2 296.4C416.71 296.9 418.2 298.49 419.25 299.41C420.3 300.32 420.01 300.61 422.49 301.89C424.97 303.17 430.25 305.83 434.15 307.08C438.05 308.33 441.96 308.92 445.87 309.41C449.78 309.9 453.68 310.01 457.59 310.01C461.5 310.01 466.26 309.65 469.31 309.41C472.37 309.17 473.97 308.93 475.91 308.58C477.84 308.23 478.96 307.92 480.91 307.3C482.87 306.69 484.58 305.99 487.63 304.9C490.68 303.81 495.34 301.83 499.23 300.76C503.11 299.7 507.04 299.07 510.95 298.51C514.86 297.94 518.11 297.5 522.67 297.38C527.23 297.25 535.7 297.69 538.3 297.75L538.3 366.11C537.79 365.91 536.75 365.41 535.25 364.91C533.74 364.41 531.26 363.64 529.26 363.1C527.27 362.56 525.44 362.04 523.28 361.67C521.12 361.31 519.17 361.08 516.32 360.92C513.47 360.76 509.55 360.66 506.19 360.7C502.83 360.73 498.96 360.93 496.18 361.15C493.39 361.36 492 361.55 489.46 361.97C486.92 362.4 483.82 363 480.91 363.7C478 364.41 475.15 365.57 472 366.19C468.85 366.8 465.32 367.11 461.99 367.39C458.65 367.66 455.33 367.8 451.98 367.84C448.62 367.88 445.2 367.81 441.84 367.61C438.48 367.41 435.17 367.14 431.83 366.64C428.49 366.14 424.42 365.2 421.82 364.61C419.21 364.02 417.14 363.35 416.2 363.1Z" fill="#0a2d6f"/>
<rect x="416.2" y="298.4" width="0.9" height="67.68" fill="#061d4c" opacity="0.85"/>
<path d="M416.2 363.1C417.14 363.35 419.21 364.02 421.82 364.61C424.42 365.2 428.49 366.14 431.83 366.64C435.17 367.14 438.48 367.41 441.84 367.61C445.2 367.81 448.62 367.88 451.98 367.84C455.33 367.8 458.65 367.66 461.99 367.39C465.32 367.11 468.85 366.8 472 366.19C475.15 365.57 478 364.41 480.91 363.7C483.82 363 486.92 362.4 489.46 361.97C492 361.55 493.39 361.36 496.18 361.15C498.96 360.93 502.83 360.73 506.19 360.7C509.55 360.66 513.47 360.76 516.32 360.92C519.17 361.08 521.12 361.31 523.28 361.67C525.44 362.04 527.27 362.56 529.26 363.1C531.26 363.64 533.74 364.41 535.25 364.91C536.75 365.41 537.79 365.91 538.3 366.11L538.3 373.86L416.2 373.86Z" fill="url(#bb6)"/>
<path d="M416.2 363.1C417.14 363.35 419.21 364.02 421.82 364.61C424.42 365.2 428.49 366.14 431.83 366.64C435.17 367.14 438.48 367.41 441.84 367.61C445.2 367.81 448.62 367.88 451.98 367.84C455.33 367.8 458.65 367.66 461.99 367.39C465.32 367.11 468.85 366.8 472 366.19C475.15 365.57 478 364.41 480.91 363.7C483.82 363 486.92 362.4 489.46 361.97C492 361.55 493.39 361.36 496.18 361.15C498.96 360.93 502.83 360.73 506.19 360.7C509.55 360.66 513.47 360.76 516.32 360.92C519.17 361.08 521.12 361.31 523.28 361.67C525.44 362.04 527.27 362.56 529.26 363.1C531.26 363.64 533.74 364.41 535.25 364.91C536.75 365.41 537.79 365.91 538.3 366.11" fill="none" stroke="#e8f2fb" stroke-width="0.8"/>
<path d="M416.2 315.12C419.19 315.35 429.2 316.24 434.15 316.48C439.09 316.72 441.96 316.77 445.87 316.55C449.78 316.34 453.68 315.91 457.59 315.2C461.5 314.49 465.43 313.5 469.31 312.27C473.2 311.04 477.86 309.06 480.91 307.83C483.97 306.6 484.58 306.08 487.63 304.9C490.68 303.72 495.34 301.83 499.23 300.76C503.11 299.7 507.04 299.07 510.95 298.51C514.86 297.94 518.11 297.5 522.67 297.38C527.23 297.25 535.7 297.69 538.3 297.75L538.3 298.73C536.67 298.84 532.22 298.79 528.53 299.41C524.85 300.02 520.21 301.1 516.2 302.42C512.19 303.73 508.39 305.67 504.48 307.3C500.57 308.93 496.68 310.76 492.76 312.19C488.83 313.62 484.82 314.86 480.91 315.88C477.01 316.89 473.2 317.59 469.31 318.28C465.43 318.97 461.5 319.64 457.59 320.01C453.68 320.39 449.78 320.55 445.87 320.54C441.96 320.53 438.05 320.36 434.15 319.94C430.25 319.51 425.48 318.7 422.49 317.98C419.5 317.27 417.25 316.04 416.2 315.65Z" fill="url(#sw6)"/>
<path d="M416.2 315.12C419.19 315.35 429.2 316.24 434.15 316.48C439.09 316.72 441.96 316.77 445.87 316.55C449.78 316.34 453.68 315.91 457.59 315.2C461.5 314.49 465.43 313.5 469.31 312.27C473.2 311.04 478.98 308.57 480.91 307.83" fill="none" stroke="#f2f4f8" stroke-width="0.9"/>
<path d="M416.2 316.1C417.25 316.53 419.5 317.89 422.49 318.66C425.48 319.42 430.25 320.24 434.15 320.69C438.05 321.14 441.96 321.33 445.87 321.37C449.78 321.4 453.68 321.28 457.59 320.92C461.5 320.55 465.41 319.86 469.31 319.19C473.22 318.51 477.98 317.61 481.04 316.85C484.09 316.1 484.6 315.53 487.63 314.67C490.66 313.82 495.34 312.51 499.23 311.74C503.11 310.98 507.04 310.24 510.95 310.09C514.86 309.94 519.33 310.36 522.67 310.84C526.01 311.31 528.37 312.12 530.97 312.94C533.58 313.77 537.08 315.33 538.3 315.8" fill="none" stroke="#d3dbec" stroke-width="1"/>
</g>
<rect x="450.61" y="327.5" width="19.26" height="6.22" fill="#3a3a3e"/>
<text x="450.31" y="333.87" font-size="9.43" textLength="19.87" lengthAdjust="spacingAndGlyphs" class="led" stroke-width="0.45">8888</text>
<rect x="484.72" y="327.5" width="19.26" height="6.22" fill="#3a3a3e"/>
<text x="484.42" y="333.87" font-size="9.43" textLength="19.87" lengthAdjust="spacingAndGlyphs" class="led" stroke-width="0.45">8888</text>
<text x="450.61" y="336.23" font-size="2.51" textLength="5.82" lengthAdjust="spacingAndGlyphs" fill="#c0cae4" text-anchor="start" class="s">SET°C</text>
<text x="460.55" y="336.23" font-size="2.51" textLength="9.33" lengthAdjust="spacingAndGlyphs" fill="#c0cae4" text-anchor="start" class="s">ACTUAL°C</text>
<text x="485.73" y="336.23" font-size="2.51" textLength="6.42" lengthAdjust="spacingAndGlyphs" fill="#c0cae4" text-anchor="start" class="s">MINUTE</text>
<text x="494.46" y="336.23" font-size="2.51" textLength="7.62" lengthAdjust="spacingAndGlyphs" fill="#c0cae4" text-anchor="start" class="s">SECOND</text>
<rect x="471.88" y="333.82" width="1.5" height="1.5" fill="#a07a44"/>
<rect x="481.41" y="333.82" width="1.5" height="1.5" fill="#a07a44"/>
<rect x="508.5" y="325.7" width="1.5" height="1.5" fill="#a07a44"/>
<rect x="508.5" y="329.81" width="1.5" height="1.5" fill="#a07a44"/>
<text x="511.41" y="327.3" font-size="2.31" textLength="5.52" lengthAdjust="spacingAndGlyphs" fill="#c0cae4" text-anchor="start" class="s">DEGAS</text>
<text x="511.41" y="331.41" font-size="2.31" textLength="8.53" lengthAdjust="spacingAndGlyphs" fill="#c0cae4" text-anchor="start" class="s">SEMIWAVE</text>
<rect x="452.02" y="340.64" width="5.62" height="5.52" rx="1.4" fill="#f6f7fb" stroke="#5f75ae" stroke-width="0.5"/>
<rect x="454.12" y="341.85" width="1.4" height="3.11" rx="0.5" fill="#4a5d92"/>
<rect x="453.02" y="342.85" width="0.8" height="1.2" fill="#7e8db8"/>
<text x="452.52" y="348.17" font-size="2.21" textLength="4.62" lengthAdjust="spacingAndGlyphs" fill="#c0cae4" text-anchor="start" class="s">TEMP+</text>
<rect x="463.15" y="340.64" width="5.62" height="5.52" rx="1.4" fill="#f6f7fb" stroke="#5f75ae" stroke-width="0.5"/>
<rect x="465.26" y="341.85" width="1.4" height="3.11" rx="0.5" fill="#4a5d92"/>
<rect x="464.16" y="342.85" width="0.8" height="1.2" fill="#7e8db8"/>
<text x="463.66" y="348.17" font-size="2.21" textLength="4.62" lengthAdjust="spacingAndGlyphs" fill="#c0cae4" text-anchor="start" class="s">TEMP-</text>
<rect x="486.23" y="340.64" width="5.62" height="5.52" rx="1.4" fill="#f6f7fb" stroke="#5f75ae" stroke-width="0.5"/>
<path d="M487.13 343.35H490.94M489.04 341.35V345.46" stroke="#5c6ea3" stroke-width="1"/>
<text x="486.73" y="348.17" font-size="2.21" textLength="4.62" lengthAdjust="spacingAndGlyphs" fill="#c0cae4" text-anchor="start" class="s">TIME+</text>
<rect x="497.47" y="340.64" width="5.62" height="5.52" rx="1.4" fill="#f6f7fb" stroke="#5f75ae" stroke-width="0.5"/>
<path d="M498.37 343.35H502.18M500.28 341.35V345.46" stroke="#5c6ea3" stroke-width="1"/>
<text x="497.97" y="348.17" font-size="2.21" textLength="4.62" lengthAdjust="spacingAndGlyphs" fill="#c0cae4" text-anchor="start" class="s">TIME-</text>
<rect x="457.64" y="349.17" width="5.62" height="5.42" rx="0.9" fill="#249ff0" stroke="#1a6cc2" stroke-width="0.4"/>
<rect x="459.14" y="350.48" width="2.61" height="2.81" rx="0.6" fill="#a9dcfa"/>
<text x="456.93" y="356.6" font-size="2.31" textLength="7.02" lengthAdjust="spacingAndGlyphs" fill="#c0cae4" text-anchor="start" class="s">HEATER</text>
<rect x="474.49" y="349.17" width="5.62" height="5.42" rx="0.9" fill="#249ff0" stroke="#1a6cc2" stroke-width="0.4"/>
<rect x="476" y="350.48" width="2.61" height="2.81" rx="0.6" fill="#a9dcfa"/>
<text x="474.39" y="356.6" font-size="2.31" textLength="5.82" lengthAdjust="spacingAndGlyphs" fill="#c0cae4" text-anchor="start" class="s">DEGAS</text>
<rect x="491.45" y="349.17" width="5.62" height="5.42" rx="0.9" fill="#249ff0" stroke="#1a6cc2" stroke-width="0.4"/>
<rect x="492.95" y="350.48" width="2.61" height="2.81" rx="0.6" fill="#a9dcfa"/>
<text x="488.99" y="356.6" font-size="2.31" textLength="10.53" lengthAdjust="spacingAndGlyphs" fill="#c0cae4" text-anchor="start" class="s">ULTRASONIC</text>
<rect x="508.2" y="349.17" width="5.62" height="5.42" rx="0.9" fill="#249ff0" stroke="#1a6cc2" stroke-width="0.4"/>
<rect x="509.71" y="350.48" width="2.61" height="2.81" rx="0.6" fill="#a9dcfa"/>
<text x="506.5" y="356.6" font-size="2.31" textLength="9.03" lengthAdjust="spacingAndGlyphs" fill="#c0cae4" text-anchor="start" class="s">SEMIWAVE</text>
<path d="M516.88 339.49A8.83 8.83 0 0 1 532.53 340.19" fill="none" stroke="#2a9ff0" stroke-width="1.1" stroke-linecap="round"/>
<path d="M527.81 335.67A8.83 8.83 0 0 1 532.53 340.19" fill="none" stroke="#2a9ff0" stroke-width="1.91" stroke-linecap="round"/>
<circle cx="524.5" cy="343.9" r="5.82" fill="#17140f"/>
<circle cx="524.5" cy="343.9" r="3.91" fill="url(#knob)"/>
<path d="M521.89 343.9H527.11M524.5 341.29V346.51M522.59 341.99L526.41 345.81M522.59 345.81L526.41 341.99" stroke="#6d7076" stroke-width="0.55" opacity="0.8"/>
<circle cx="524.5" cy="343.9" r="1.2" fill="#fafafa"/>
<text x="512.96" y="344.7" font-size="2.31" textLength="3.81" lengthAdjust="spacingAndGlyphs" fill="#c0cae4" text-anchor="start" class="s">MIN</text>
<text x="532.12" y="344.7" font-size="2.31" textLength="3.81" lengthAdjust="spacingAndGlyphs" fill="#c0cae4" text-anchor="start" class="s">MAX</text>
<text x="521.09" y="352.53" font-size="2.31" textLength="6.82" lengthAdjust="spacingAndGlyphs" fill="#c0cae4" text-anchor="start" class="s">POWER</text>
</g>
</svg></body></html>
